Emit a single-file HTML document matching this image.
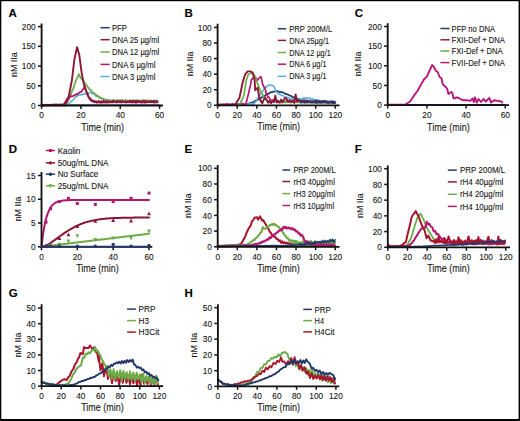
<!DOCTYPE html><html><head><meta charset="utf-8"><style>html,body{margin:0;padding:0;background:#fff;overflow:hidden;width:520px;height:421px;}svg{display:block;} text{stroke:#141414;stroke-width:0.1px;}</style></head><body><svg width="520" height="421" viewBox="0 0 520 421" font-family='"Liberation Sans", sans-serif'>
<rect x="0" y="0" width="520" height="421" fill="#fff"/>
<text x="8.40" y="16.50" font-size="11.5" font-weight="bold" fill="#000">A</text>
<line x1="41.60" y1="105.50" x2="41.60" y2="108.90" stroke="#111" stroke-width="1.5"/>
<line x1="80.93" y1="105.50" x2="80.93" y2="108.90" stroke="#111" stroke-width="1.5"/>
<line x1="120.27" y1="105.50" x2="120.27" y2="108.90" stroke="#111" stroke-width="1.5"/>
<line x1="159.60" y1="105.50" x2="159.60" y2="108.90" stroke="#111" stroke-width="1.5"/>
<line x1="38.00" y1="105.50" x2="41.60" y2="105.50" stroke="#111" stroke-width="1.5"/>
<line x1="38.00" y1="85.78" x2="41.60" y2="85.78" stroke="#111" stroke-width="1.5"/>
<line x1="38.00" y1="66.05" x2="41.60" y2="66.05" stroke="#111" stroke-width="1.5"/>
<line x1="38.00" y1="46.32" x2="41.60" y2="46.32" stroke="#111" stroke-width="1.5"/>
<line x1="38.00" y1="26.60" x2="41.60" y2="26.60" stroke="#111" stroke-width="1.5"/>
<text x="35.70" y="108.60" font-size="9.0" text-anchor="end" font-weight="normal" fill="#141414" textLength="4.62" lengthAdjust="spacingAndGlyphs" >0</text>
<text x="35.70" y="88.88" font-size="9.0" text-anchor="end" font-weight="normal" fill="#141414" textLength="9.23" lengthAdjust="spacingAndGlyphs" >50</text>
<text x="35.70" y="69.15" font-size="9.0" text-anchor="end" font-weight="normal" fill="#141414" textLength="13.85" lengthAdjust="spacingAndGlyphs" >100</text>
<text x="35.70" y="49.42" font-size="9.0" text-anchor="end" font-weight="normal" fill="#141414" textLength="13.85" lengthAdjust="spacingAndGlyphs" >150</text>
<text x="35.70" y="29.70" font-size="9.0" text-anchor="end" font-weight="normal" fill="#141414" textLength="13.85" lengthAdjust="spacingAndGlyphs" >200</text>
<text x="41.60" y="118.40" font-size="9.0" text-anchor="middle" font-weight="normal" fill="#141414" textLength="4.62" lengthAdjust="spacingAndGlyphs" >0</text>
<text x="80.93" y="118.40" font-size="9.0" text-anchor="middle" font-weight="normal" fill="#141414" textLength="9.23" lengthAdjust="spacingAndGlyphs" >20</text>
<text x="120.27" y="118.40" font-size="9.0" text-anchor="middle" font-weight="normal" fill="#141414" textLength="9.23" lengthAdjust="spacingAndGlyphs" >40</text>
<text x="159.60" y="118.40" font-size="9.0" text-anchor="middle" font-weight="normal" fill="#141414" textLength="9.23" lengthAdjust="spacingAndGlyphs" >60</text>
<text x="0" y="0" font-size="9.0" text-anchor="middle" fill="#141414" textLength="24.73" lengthAdjust="spacingAndGlyphs" transform="translate(17.10 64.60) rotate(-90)">nM IIa</text>
<text x="102.70" y="130.80" font-size="10.2" text-anchor="middle" font-weight="normal" fill="#141414" textLength="42.66" lengthAdjust="spacingAndGlyphs" >Time (min)</text>
<line x1="100.50" y1="27.70" x2="109.70" y2="27.70" stroke="#22396c" stroke-width="1.5"/>
<text x="112.00" y="30.80" font-size="8.74" fill="#141414" textLength="14.94" lengthAdjust="spacingAndGlyphs">PFP</text>
<line x1="100.50" y1="39.70" x2="109.70" y2="39.70" stroke="#8c1636" stroke-width="1.5"/>
<text x="112.00" y="42.80" font-size="8.74" fill="#141414" textLength="47.20" lengthAdjust="spacingAndGlyphs">DNA 25 µg/ml</text>
<line x1="100.50" y1="52.00" x2="109.70" y2="52.00" stroke="#6dab48" stroke-width="1.5"/>
<text x="112.00" y="55.10" font-size="8.74" fill="#141414" textLength="47.20" lengthAdjust="spacingAndGlyphs">DNA 12 µg/ml</text>
<line x1="100.50" y1="64.40" x2="109.70" y2="64.40" stroke="#b5176f" stroke-width="1.5"/>
<text x="112.00" y="67.50" font-size="8.74" fill="#141414" textLength="43.43" lengthAdjust="spacingAndGlyphs">DNA 6 µg/ml</text>
<line x1="100.50" y1="76.50" x2="109.70" y2="76.50" stroke="#5eaed6" stroke-width="1.5"/>
<text x="112.00" y="79.60" font-size="8.74" fill="#141414" textLength="43.43" lengthAdjust="spacingAndGlyphs">DNA 3 µg/ml</text>
<text x="184.40" y="16.50" font-size="11.5" font-weight="bold" fill="#000">B</text>
<line x1="217.60" y1="105.30" x2="217.60" y2="108.70" stroke="#111" stroke-width="1.5"/>
<line x1="237.22" y1="105.30" x2="237.22" y2="108.70" stroke="#111" stroke-width="1.5"/>
<line x1="256.83" y1="105.30" x2="256.83" y2="108.70" stroke="#111" stroke-width="1.5"/>
<line x1="276.45" y1="105.30" x2="276.45" y2="108.70" stroke="#111" stroke-width="1.5"/>
<line x1="296.07" y1="105.30" x2="296.07" y2="108.70" stroke="#111" stroke-width="1.5"/>
<line x1="315.68" y1="105.30" x2="315.68" y2="108.70" stroke="#111" stroke-width="1.5"/>
<line x1="335.30" y1="105.30" x2="335.30" y2="108.70" stroke="#111" stroke-width="1.5"/>
<line x1="214.00" y1="105.30" x2="217.60" y2="105.30" stroke="#111" stroke-width="1.5"/>
<line x1="214.00" y1="89.72" x2="217.60" y2="89.72" stroke="#111" stroke-width="1.5"/>
<line x1="214.00" y1="74.14" x2="217.60" y2="74.14" stroke="#111" stroke-width="1.5"/>
<line x1="214.00" y1="58.56" x2="217.60" y2="58.56" stroke="#111" stroke-width="1.5"/>
<line x1="214.00" y1="42.98" x2="217.60" y2="42.98" stroke="#111" stroke-width="1.5"/>
<line x1="214.00" y1="27.40" x2="217.60" y2="27.40" stroke="#111" stroke-width="1.5"/>
<text x="211.70" y="108.40" font-size="9.0" text-anchor="end" font-weight="normal" fill="#141414" textLength="4.62" lengthAdjust="spacingAndGlyphs" >0</text>
<text x="211.70" y="92.82" font-size="9.0" text-anchor="end" font-weight="normal" fill="#141414" textLength="9.23" lengthAdjust="spacingAndGlyphs" >20</text>
<text x="211.70" y="77.24" font-size="9.0" text-anchor="end" font-weight="normal" fill="#141414" textLength="9.23" lengthAdjust="spacingAndGlyphs" >40</text>
<text x="211.70" y="61.66" font-size="9.0" text-anchor="end" font-weight="normal" fill="#141414" textLength="9.23" lengthAdjust="spacingAndGlyphs" >60</text>
<text x="211.70" y="46.08" font-size="9.0" text-anchor="end" font-weight="normal" fill="#141414" textLength="9.23" lengthAdjust="spacingAndGlyphs" >80</text>
<text x="211.70" y="30.50" font-size="9.0" text-anchor="end" font-weight="normal" fill="#141414" textLength="13.85" lengthAdjust="spacingAndGlyphs" >100</text>
<text x="217.60" y="118.20" font-size="9.0" text-anchor="middle" font-weight="normal" fill="#141414" textLength="4.62" lengthAdjust="spacingAndGlyphs" >0</text>
<text x="237.22" y="118.20" font-size="9.0" text-anchor="middle" font-weight="normal" fill="#141414" textLength="9.23" lengthAdjust="spacingAndGlyphs" >20</text>
<text x="256.83" y="118.20" font-size="9.0" text-anchor="middle" font-weight="normal" fill="#141414" textLength="9.23" lengthAdjust="spacingAndGlyphs" >40</text>
<text x="276.45" y="118.20" font-size="9.0" text-anchor="middle" font-weight="normal" fill="#141414" textLength="9.23" lengthAdjust="spacingAndGlyphs" >60</text>
<text x="296.07" y="118.20" font-size="9.0" text-anchor="middle" font-weight="normal" fill="#141414" textLength="9.23" lengthAdjust="spacingAndGlyphs" >80</text>
<text x="315.68" y="118.20" font-size="9.0" text-anchor="middle" font-weight="normal" fill="#141414" textLength="13.85" lengthAdjust="spacingAndGlyphs" >100</text>
<text x="335.30" y="118.20" font-size="9.0" text-anchor="middle" font-weight="normal" fill="#141414" textLength="13.85" lengthAdjust="spacingAndGlyphs" >120</text>
<text x="0" y="0" font-size="9.0" text-anchor="middle" fill="#141414" textLength="24.73" lengthAdjust="spacingAndGlyphs" transform="translate(193.00 63.90) rotate(-90)">nM IIa</text>
<text x="278.70" y="130.00" font-size="10.2" text-anchor="middle" font-weight="normal" fill="#141414" textLength="42.66" lengthAdjust="spacingAndGlyphs" >Time (min)</text>
<line x1="277.80" y1="28.80" x2="286.00" y2="28.80" stroke="#22396c" stroke-width="1.5"/>
<text x="289.30" y="31.90" font-size="8.74" fill="#141414" textLength="43.01" lengthAdjust="spacingAndGlyphs">PRP 200M/L</text>
<line x1="277.80" y1="40.40" x2="286.00" y2="40.40" stroke="#8c1636" stroke-width="1.5"/>
<text x="289.30" y="43.50" font-size="8.74" fill="#141414" textLength="39.72" lengthAdjust="spacingAndGlyphs">DNA 25µg/1</text>
<line x1="277.80" y1="52.50" x2="286.00" y2="52.50" stroke="#6dab48" stroke-width="1.5"/>
<text x="289.30" y="55.60" font-size="8.74" fill="#141414" textLength="41.40" lengthAdjust="spacingAndGlyphs">DNA 12 µg/1</text>
<line x1="277.80" y1="64.20" x2="286.00" y2="64.20" stroke="#b5176f" stroke-width="1.5"/>
<text x="289.30" y="67.30" font-size="8.74" fill="#141414" textLength="37.13" lengthAdjust="spacingAndGlyphs">DNA 6 µg/1</text>
<line x1="277.80" y1="76.30" x2="286.00" y2="76.30" stroke="#5eaed6" stroke-width="1.5"/>
<text x="289.30" y="79.40" font-size="8.74" fill="#141414" textLength="37.13" lengthAdjust="spacingAndGlyphs">DNA 3 µg/1</text>
<text x="354.80" y="16.50" font-size="11.5" font-weight="bold" fill="#000">C</text>
<line x1="387.70" y1="105.10" x2="387.70" y2="108.50" stroke="#111" stroke-width="1.5"/>
<line x1="426.90" y1="105.10" x2="426.90" y2="108.50" stroke="#111" stroke-width="1.5"/>
<line x1="466.10" y1="105.10" x2="466.10" y2="108.50" stroke="#111" stroke-width="1.5"/>
<line x1="505.30" y1="105.10" x2="505.30" y2="108.50" stroke="#111" stroke-width="1.5"/>
<line x1="384.10" y1="105.10" x2="387.70" y2="105.10" stroke="#111" stroke-width="1.5"/>
<line x1="384.10" y1="85.45" x2="387.70" y2="85.45" stroke="#111" stroke-width="1.5"/>
<line x1="384.10" y1="65.80" x2="387.70" y2="65.80" stroke="#111" stroke-width="1.5"/>
<line x1="384.10" y1="46.15" x2="387.70" y2="46.15" stroke="#111" stroke-width="1.5"/>
<line x1="384.10" y1="26.50" x2="387.70" y2="26.50" stroke="#111" stroke-width="1.5"/>
<text x="381.80" y="108.20" font-size="9.0" text-anchor="end" font-weight="normal" fill="#141414" textLength="4.62" lengthAdjust="spacingAndGlyphs" >0</text>
<text x="381.80" y="88.55" font-size="9.0" text-anchor="end" font-weight="normal" fill="#141414" textLength="9.23" lengthAdjust="spacingAndGlyphs" >50</text>
<text x="381.80" y="68.90" font-size="9.0" text-anchor="end" font-weight="normal" fill="#141414" textLength="13.85" lengthAdjust="spacingAndGlyphs" >100</text>
<text x="381.80" y="49.25" font-size="9.0" text-anchor="end" font-weight="normal" fill="#141414" textLength="13.85" lengthAdjust="spacingAndGlyphs" >150</text>
<text x="381.80" y="29.60" font-size="9.0" text-anchor="end" font-weight="normal" fill="#141414" textLength="13.85" lengthAdjust="spacingAndGlyphs" >200</text>
<text x="387.70" y="118.00" font-size="9.0" text-anchor="middle" font-weight="normal" fill="#141414" textLength="4.62" lengthAdjust="spacingAndGlyphs" >0</text>
<text x="426.90" y="118.00" font-size="9.0" text-anchor="middle" font-weight="normal" fill="#141414" textLength="9.23" lengthAdjust="spacingAndGlyphs" >20</text>
<text x="466.10" y="118.00" font-size="9.0" text-anchor="middle" font-weight="normal" fill="#141414" textLength="9.23" lengthAdjust="spacingAndGlyphs" >40</text>
<text x="505.30" y="118.00" font-size="9.0" text-anchor="middle" font-weight="normal" fill="#141414" textLength="9.23" lengthAdjust="spacingAndGlyphs" >60</text>
<text x="0" y="0" font-size="9.0" text-anchor="middle" fill="#141414" textLength="24.73" lengthAdjust="spacingAndGlyphs" transform="translate(360.90 63.90) rotate(-90)">nM IIa</text>
<text x="448.40" y="130.50" font-size="10.2" text-anchor="middle" font-weight="normal" fill="#141414" textLength="42.66" lengthAdjust="spacingAndGlyphs" >Time (min)</text>
<line x1="440.40" y1="28.50" x2="449.60" y2="28.50" stroke="#22396c" stroke-width="1.5"/>
<text x="451.60" y="31.60" font-size="8.74" fill="#141414" textLength="43.37" lengthAdjust="spacingAndGlyphs">PFP no DNA</text>
<line x1="440.40" y1="39.80" x2="449.60" y2="39.80" stroke="#a8143c" stroke-width="1.5"/>
<text x="451.60" y="42.90" font-size="8.74" fill="#141414" textLength="53.35" lengthAdjust="spacingAndGlyphs">FXII-Def + DNA</text>
<line x1="440.40" y1="51.00" x2="449.60" y2="51.00" stroke="#6dab48" stroke-width="1.5"/>
<text x="451.60" y="54.10" font-size="8.74" fill="#141414" textLength="51.07" lengthAdjust="spacingAndGlyphs">FXI-Def + DNA</text>
<line x1="440.40" y1="62.60" x2="449.60" y2="62.60" stroke="#b5176f" stroke-width="1.5"/>
<text x="451.60" y="65.70" font-size="8.74" fill="#141414" textLength="53.35" lengthAdjust="spacingAndGlyphs">FVII-Def + DNA</text>
<text x="8.70" y="152.90" font-size="11.5" font-weight="bold" fill="#000">D</text>
<line x1="41.50" y1="246.80" x2="41.50" y2="250.20" stroke="#111" stroke-width="1.5"/>
<line x1="77.33" y1="246.80" x2="77.33" y2="250.20" stroke="#111" stroke-width="1.5"/>
<line x1="113.17" y1="246.80" x2="113.17" y2="250.20" stroke="#111" stroke-width="1.5"/>
<line x1="149.00" y1="246.80" x2="149.00" y2="250.20" stroke="#111" stroke-width="1.5"/>
<line x1="37.90" y1="246.80" x2="41.50" y2="246.80" stroke="#111" stroke-width="1.5"/>
<line x1="37.90" y1="223.03" x2="41.50" y2="223.03" stroke="#111" stroke-width="1.5"/>
<line x1="37.90" y1="199.27" x2="41.50" y2="199.27" stroke="#111" stroke-width="1.5"/>
<line x1="37.90" y1="175.50" x2="41.50" y2="175.50" stroke="#111" stroke-width="1.5"/>
<text x="35.60" y="249.90" font-size="9.0" text-anchor="end" font-weight="normal" fill="#141414" textLength="4.62" lengthAdjust="spacingAndGlyphs" >0</text>
<text x="35.60" y="226.13" font-size="9.0" text-anchor="end" font-weight="normal" fill="#141414" textLength="4.62" lengthAdjust="spacingAndGlyphs" >5</text>
<text x="35.60" y="202.37" font-size="9.0" text-anchor="end" font-weight="normal" fill="#141414" textLength="9.23" lengthAdjust="spacingAndGlyphs" >10</text>
<text x="35.60" y="178.60" font-size="9.0" text-anchor="end" font-weight="normal" fill="#141414" textLength="9.23" lengthAdjust="spacingAndGlyphs" >15</text>
<text x="41.50" y="259.70" font-size="9.0" text-anchor="middle" font-weight="normal" fill="#141414" textLength="4.62" lengthAdjust="spacingAndGlyphs" >0</text>
<text x="77.33" y="259.70" font-size="9.0" text-anchor="middle" font-weight="normal" fill="#141414" textLength="9.23" lengthAdjust="spacingAndGlyphs" >20</text>
<text x="113.17" y="259.70" font-size="9.0" text-anchor="middle" font-weight="normal" fill="#141414" textLength="9.23" lengthAdjust="spacingAndGlyphs" >40</text>
<text x="149.00" y="259.70" font-size="9.0" text-anchor="middle" font-weight="normal" fill="#141414" textLength="9.23" lengthAdjust="spacingAndGlyphs" >60</text>
<text x="0" y="0" font-size="9.0" text-anchor="middle" fill="#141414" textLength="24.73" lengthAdjust="spacingAndGlyphs" transform="translate(21.40 209.00) rotate(-90)">nM IIa</text>
<text x="97.50" y="272.00" font-size="10.2" text-anchor="middle" font-weight="normal" fill="#141414" textLength="42.66" lengthAdjust="spacingAndGlyphs" >Time (min)</text>
<line x1="45.80" y1="150.50" x2="55.00" y2="150.50" stroke="#b5176f" stroke-width="1.5"/>
<text x="57.70" y="153.60" font-size="9.18" fill="#141414" textLength="22.60" lengthAdjust="spacingAndGlyphs">Kaolin</text>
<line x1="45.80" y1="162.80" x2="55.00" y2="162.80" stroke="#8c1636" stroke-width="1.5"/>
<text x="57.70" y="165.90" font-size="9.18" fill="#141414" textLength="50.75" lengthAdjust="spacingAndGlyphs">50ug/mL DNA</text>
<line x1="45.80" y1="174.20" x2="55.00" y2="174.20" stroke="#22396c" stroke-width="1.5"/>
<text x="57.70" y="177.30" font-size="9.18" fill="#141414" textLength="40.52" lengthAdjust="spacingAndGlyphs">No Surface</text>
<line x1="45.80" y1="185.80" x2="55.00" y2="185.80" stroke="#6dab48" stroke-width="1.5"/>
<text x="57.70" y="188.90" font-size="9.18" fill="#141414" textLength="50.75" lengthAdjust="spacingAndGlyphs">25ug/mL DNA</text>
<text x="184.40" y="152.90" font-size="11.5" font-weight="bold" fill="#000">E</text>
<line x1="217.70" y1="246.80" x2="217.70" y2="250.20" stroke="#111" stroke-width="1.5"/>
<line x1="237.28" y1="246.80" x2="237.28" y2="250.20" stroke="#111" stroke-width="1.5"/>
<line x1="256.87" y1="246.80" x2="256.87" y2="250.20" stroke="#111" stroke-width="1.5"/>
<line x1="276.45" y1="246.80" x2="276.45" y2="250.20" stroke="#111" stroke-width="1.5"/>
<line x1="296.03" y1="246.80" x2="296.03" y2="250.20" stroke="#111" stroke-width="1.5"/>
<line x1="315.62" y1="246.80" x2="315.62" y2="250.20" stroke="#111" stroke-width="1.5"/>
<line x1="335.20" y1="246.80" x2="335.20" y2="250.20" stroke="#111" stroke-width="1.5"/>
<line x1="214.10" y1="246.80" x2="217.70" y2="246.80" stroke="#111" stroke-width="1.5"/>
<line x1="214.10" y1="231.10" x2="217.70" y2="231.10" stroke="#111" stroke-width="1.5"/>
<line x1="214.10" y1="215.40" x2="217.70" y2="215.40" stroke="#111" stroke-width="1.5"/>
<line x1="214.10" y1="199.70" x2="217.70" y2="199.70" stroke="#111" stroke-width="1.5"/>
<line x1="214.10" y1="184.00" x2="217.70" y2="184.00" stroke="#111" stroke-width="1.5"/>
<line x1="214.10" y1="168.30" x2="217.70" y2="168.30" stroke="#111" stroke-width="1.5"/>
<text x="211.80" y="249.90" font-size="9.0" text-anchor="end" font-weight="normal" fill="#141414" textLength="4.62" lengthAdjust="spacingAndGlyphs" >0</text>
<text x="211.80" y="234.20" font-size="9.0" text-anchor="end" font-weight="normal" fill="#141414" textLength="9.23" lengthAdjust="spacingAndGlyphs" >20</text>
<text x="211.80" y="218.50" font-size="9.0" text-anchor="end" font-weight="normal" fill="#141414" textLength="9.23" lengthAdjust="spacingAndGlyphs" >40</text>
<text x="211.80" y="202.80" font-size="9.0" text-anchor="end" font-weight="normal" fill="#141414" textLength="9.23" lengthAdjust="spacingAndGlyphs" >60</text>
<text x="211.80" y="187.10" font-size="9.0" text-anchor="end" font-weight="normal" fill="#141414" textLength="9.23" lengthAdjust="spacingAndGlyphs" >80</text>
<text x="211.80" y="171.40" font-size="9.0" text-anchor="end" font-weight="normal" fill="#141414" textLength="13.85" lengthAdjust="spacingAndGlyphs" >100</text>
<text x="217.70" y="259.70" font-size="9.0" text-anchor="middle" font-weight="normal" fill="#141414" textLength="4.62" lengthAdjust="spacingAndGlyphs" >0</text>
<text x="237.28" y="259.70" font-size="9.0" text-anchor="middle" font-weight="normal" fill="#141414" textLength="9.23" lengthAdjust="spacingAndGlyphs" >20</text>
<text x="256.87" y="259.70" font-size="9.0" text-anchor="middle" font-weight="normal" fill="#141414" textLength="9.23" lengthAdjust="spacingAndGlyphs" >40</text>
<text x="276.45" y="259.70" font-size="9.0" text-anchor="middle" font-weight="normal" fill="#141414" textLength="9.23" lengthAdjust="spacingAndGlyphs" >60</text>
<text x="296.03" y="259.70" font-size="9.0" text-anchor="middle" font-weight="normal" fill="#141414" textLength="9.23" lengthAdjust="spacingAndGlyphs" >80</text>
<text x="315.62" y="259.70" font-size="9.0" text-anchor="middle" font-weight="normal" fill="#141414" textLength="13.85" lengthAdjust="spacingAndGlyphs" >100</text>
<text x="335.20" y="259.70" font-size="9.0" text-anchor="middle" font-weight="normal" fill="#141414" textLength="13.85" lengthAdjust="spacingAndGlyphs" >120</text>
<text x="0" y="0" font-size="9.0" text-anchor="middle" fill="#141414" textLength="24.73" lengthAdjust="spacingAndGlyphs" transform="translate(191.30 205.60) rotate(-90)">nM IIa</text>
<text x="278.50" y="272.00" font-size="10.2" text-anchor="middle" font-weight="normal" fill="#141414" textLength="42.66" lengthAdjust="spacingAndGlyphs" >Time (min)</text>
<line x1="282.40" y1="170.00" x2="290.00" y2="170.00" stroke="#22396c" stroke-width="1.5"/>
<text x="293.40" y="173.10" font-size="8.62" fill="#141414" textLength="42.21" lengthAdjust="spacingAndGlyphs">PRP 200M/L</text>
<line x1="282.40" y1="181.50" x2="290.00" y2="181.50" stroke="#8c1636" stroke-width="1.5"/>
<text x="293.40" y="184.60" font-size="8.62" fill="#141414" textLength="41.47" lengthAdjust="spacingAndGlyphs">rH3 40µg/ml</text>
<line x1="282.40" y1="193.60" x2="290.00" y2="193.60" stroke="#6dab48" stroke-width="1.5"/>
<text x="293.40" y="196.70" font-size="8.62" fill="#141414" textLength="41.47" lengthAdjust="spacingAndGlyphs">rH3 20µg/ml</text>
<line x1="282.40" y1="205.50" x2="290.00" y2="205.50" stroke="#b5176f" stroke-width="1.5"/>
<text x="293.40" y="208.60" font-size="8.62" fill="#141414" textLength="40.77" lengthAdjust="spacingAndGlyphs">rH3 10µg/ml</text>
<text x="354.80" y="152.90" font-size="11.5" font-weight="bold" fill="#000">F</text>
<line x1="387.80" y1="247.30" x2="387.80" y2="250.70" stroke="#111" stroke-width="1.5"/>
<line x1="407.45" y1="247.30" x2="407.45" y2="250.70" stroke="#111" stroke-width="1.5"/>
<line x1="427.10" y1="247.30" x2="427.10" y2="250.70" stroke="#111" stroke-width="1.5"/>
<line x1="446.75" y1="247.30" x2="446.75" y2="250.70" stroke="#111" stroke-width="1.5"/>
<line x1="466.40" y1="247.30" x2="466.40" y2="250.70" stroke="#111" stroke-width="1.5"/>
<line x1="486.05" y1="247.30" x2="486.05" y2="250.70" stroke="#111" stroke-width="1.5"/>
<line x1="505.70" y1="247.30" x2="505.70" y2="250.70" stroke="#111" stroke-width="1.5"/>
<line x1="384.20" y1="247.30" x2="387.80" y2="247.30" stroke="#111" stroke-width="1.5"/>
<line x1="384.20" y1="231.58" x2="387.80" y2="231.58" stroke="#111" stroke-width="1.5"/>
<line x1="384.20" y1="215.86" x2="387.80" y2="215.86" stroke="#111" stroke-width="1.5"/>
<line x1="384.20" y1="200.14" x2="387.80" y2="200.14" stroke="#111" stroke-width="1.5"/>
<line x1="384.20" y1="184.42" x2="387.80" y2="184.42" stroke="#111" stroke-width="1.5"/>
<line x1="384.20" y1="168.70" x2="387.80" y2="168.70" stroke="#111" stroke-width="1.5"/>
<text x="381.90" y="250.40" font-size="9.0" text-anchor="end" font-weight="normal" fill="#141414" textLength="4.62" lengthAdjust="spacingAndGlyphs" >0</text>
<text x="381.90" y="234.68" font-size="9.0" text-anchor="end" font-weight="normal" fill="#141414" textLength="9.23" lengthAdjust="spacingAndGlyphs" >20</text>
<text x="381.90" y="218.96" font-size="9.0" text-anchor="end" font-weight="normal" fill="#141414" textLength="9.23" lengthAdjust="spacingAndGlyphs" >40</text>
<text x="381.90" y="203.24" font-size="9.0" text-anchor="end" font-weight="normal" fill="#141414" textLength="9.23" lengthAdjust="spacingAndGlyphs" >60</text>
<text x="381.90" y="187.52" font-size="9.0" text-anchor="end" font-weight="normal" fill="#141414" textLength="9.23" lengthAdjust="spacingAndGlyphs" >80</text>
<text x="381.90" y="171.80" font-size="9.0" text-anchor="end" font-weight="normal" fill="#141414" textLength="13.85" lengthAdjust="spacingAndGlyphs" >100</text>
<text x="387.80" y="260.20" font-size="9.0" text-anchor="middle" font-weight="normal" fill="#141414" textLength="4.62" lengthAdjust="spacingAndGlyphs" >0</text>
<text x="407.45" y="260.20" font-size="9.0" text-anchor="middle" font-weight="normal" fill="#141414" textLength="9.23" lengthAdjust="spacingAndGlyphs" >20</text>
<text x="427.10" y="260.20" font-size="9.0" text-anchor="middle" font-weight="normal" fill="#141414" textLength="9.23" lengthAdjust="spacingAndGlyphs" >40</text>
<text x="446.75" y="260.20" font-size="9.0" text-anchor="middle" font-weight="normal" fill="#141414" textLength="9.23" lengthAdjust="spacingAndGlyphs" >60</text>
<text x="466.40" y="260.20" font-size="9.0" text-anchor="middle" font-weight="normal" fill="#141414" textLength="9.23" lengthAdjust="spacingAndGlyphs" >80</text>
<text x="486.05" y="260.20" font-size="9.0" text-anchor="middle" font-weight="normal" fill="#141414" textLength="13.85" lengthAdjust="spacingAndGlyphs" >100</text>
<text x="505.70" y="260.20" font-size="9.0" text-anchor="middle" font-weight="normal" fill="#141414" textLength="13.85" lengthAdjust="spacingAndGlyphs" >120</text>
<text x="0" y="0" font-size="9.0" text-anchor="middle" fill="#141414" textLength="24.73" lengthAdjust="spacingAndGlyphs" transform="translate(363.10 205.60) rotate(-90)">nM IIa</text>
<text x="448.50" y="272.00" font-size="10.2" text-anchor="middle" font-weight="normal" fill="#141414" textLength="42.66" lengthAdjust="spacingAndGlyphs" >Time (min)</text>
<line x1="447.80" y1="170.10" x2="456.80" y2="170.10" stroke="#22396c" stroke-width="1.5"/>
<text x="459.90" y="173.20" font-size="9.07" fill="#141414" textLength="45.41" lengthAdjust="spacingAndGlyphs">PRP 200M/L</text>
<line x1="447.80" y1="181.90" x2="456.80" y2="181.90" stroke="#8c1636" stroke-width="1.5"/>
<text x="459.90" y="185.00" font-size="9.07" fill="#141414" textLength="43.37" lengthAdjust="spacingAndGlyphs">rH4 40µg/ml</text>
<line x1="447.80" y1="194.30" x2="456.80" y2="194.30" stroke="#6dab48" stroke-width="1.5"/>
<text x="459.90" y="197.40" font-size="9.07" fill="#141414" textLength="43.37" lengthAdjust="spacingAndGlyphs">rH4 20µg/ml</text>
<line x1="447.80" y1="206.40" x2="456.80" y2="206.40" stroke="#b5176f" stroke-width="1.5"/>
<text x="459.90" y="209.50" font-size="9.07" fill="#141414" textLength="43.37" lengthAdjust="spacingAndGlyphs">rH4 10µg/ml</text>
<text x="8.70" y="296.90" font-size="11.5" font-weight="bold" fill="#000">G</text>
<line x1="41.60" y1="386.10" x2="41.60" y2="389.50" stroke="#111" stroke-width="1.5"/>
<line x1="61.23" y1="386.10" x2="61.23" y2="389.50" stroke="#111" stroke-width="1.5"/>
<line x1="80.87" y1="386.10" x2="80.87" y2="389.50" stroke="#111" stroke-width="1.5"/>
<line x1="100.50" y1="386.10" x2="100.50" y2="389.50" stroke="#111" stroke-width="1.5"/>
<line x1="120.13" y1="386.10" x2="120.13" y2="389.50" stroke="#111" stroke-width="1.5"/>
<line x1="139.77" y1="386.10" x2="139.77" y2="389.50" stroke="#111" stroke-width="1.5"/>
<line x1="159.40" y1="386.10" x2="159.40" y2="389.50" stroke="#111" stroke-width="1.5"/>
<line x1="38.00" y1="386.10" x2="41.60" y2="386.10" stroke="#111" stroke-width="1.5"/>
<line x1="38.00" y1="370.50" x2="41.60" y2="370.50" stroke="#111" stroke-width="1.5"/>
<line x1="38.00" y1="354.90" x2="41.60" y2="354.90" stroke="#111" stroke-width="1.5"/>
<line x1="38.00" y1="339.30" x2="41.60" y2="339.30" stroke="#111" stroke-width="1.5"/>
<line x1="38.00" y1="323.70" x2="41.60" y2="323.70" stroke="#111" stroke-width="1.5"/>
<line x1="38.00" y1="308.10" x2="41.60" y2="308.10" stroke="#111" stroke-width="1.5"/>
<text x="35.70" y="389.20" font-size="9.0" text-anchor="end" font-weight="normal" fill="#141414" textLength="4.62" lengthAdjust="spacingAndGlyphs" >0</text>
<text x="35.70" y="373.60" font-size="9.0" text-anchor="end" font-weight="normal" fill="#141414" textLength="9.23" lengthAdjust="spacingAndGlyphs" >10</text>
<text x="35.70" y="358.00" font-size="9.0" text-anchor="end" font-weight="normal" fill="#141414" textLength="9.23" lengthAdjust="spacingAndGlyphs" >20</text>
<text x="35.70" y="342.40" font-size="9.0" text-anchor="end" font-weight="normal" fill="#141414" textLength="9.23" lengthAdjust="spacingAndGlyphs" >30</text>
<text x="35.70" y="326.80" font-size="9.0" text-anchor="end" font-weight="normal" fill="#141414" textLength="9.23" lengthAdjust="spacingAndGlyphs" >40</text>
<text x="35.70" y="311.20" font-size="9.0" text-anchor="end" font-weight="normal" fill="#141414" textLength="9.23" lengthAdjust="spacingAndGlyphs" >50</text>
<text x="41.60" y="399.00" font-size="9.0" text-anchor="middle" font-weight="normal" fill="#141414" textLength="4.62" lengthAdjust="spacingAndGlyphs" >0</text>
<text x="61.23" y="399.00" font-size="9.0" text-anchor="middle" font-weight="normal" fill="#141414" textLength="9.23" lengthAdjust="spacingAndGlyphs" >20</text>
<text x="80.87" y="399.00" font-size="9.0" text-anchor="middle" font-weight="normal" fill="#141414" textLength="9.23" lengthAdjust="spacingAndGlyphs" >40</text>
<text x="100.50" y="399.00" font-size="9.0" text-anchor="middle" font-weight="normal" fill="#141414" textLength="9.23" lengthAdjust="spacingAndGlyphs" >60</text>
<text x="120.13" y="399.00" font-size="9.0" text-anchor="middle" font-weight="normal" fill="#141414" textLength="9.23" lengthAdjust="spacingAndGlyphs" >80</text>
<text x="139.77" y="399.00" font-size="9.0" text-anchor="middle" font-weight="normal" fill="#141414" textLength="13.85" lengthAdjust="spacingAndGlyphs" >100</text>
<text x="159.40" y="399.00" font-size="9.0" text-anchor="middle" font-weight="normal" fill="#141414" textLength="13.85" lengthAdjust="spacingAndGlyphs" >120</text>
<text x="0" y="0" font-size="9.0" text-anchor="middle" fill="#141414" textLength="24.73" lengthAdjust="spacingAndGlyphs" transform="translate(20.60 345.00) rotate(-90)">nM IIa</text>
<text x="102.50" y="410.70" font-size="10.2" text-anchor="middle" font-weight="normal" fill="#141414" textLength="42.66" lengthAdjust="spacingAndGlyphs" >Time (min)</text>
<line x1="127.10" y1="309.10" x2="135.80" y2="309.10" stroke="#22396c" stroke-width="1.5"/>
<text x="138.60" y="312.20" font-size="9.18" fill="#141414" textLength="16.77" lengthAdjust="spacingAndGlyphs">PRP</text>
<line x1="127.10" y1="320.60" x2="135.80" y2="320.60" stroke="#6dab48" stroke-width="1.5"/>
<text x="138.60" y="323.70" font-size="9.18" fill="#141414" textLength="10.39" lengthAdjust="spacingAndGlyphs">H3</text>
<line x1="127.10" y1="332.10" x2="135.80" y2="332.10" stroke="#a8142e" stroke-width="1.5"/>
<text x="138.60" y="335.20" font-size="9.18" fill="#141414" textLength="20.80" lengthAdjust="spacingAndGlyphs">H3Cit</text>
<text x="184.40" y="297.20" font-size="11.5" font-weight="bold" fill="#000">H</text>
<line x1="217.90" y1="386.40" x2="217.90" y2="389.80" stroke="#111" stroke-width="1.5"/>
<line x1="237.57" y1="386.40" x2="237.57" y2="389.80" stroke="#111" stroke-width="1.5"/>
<line x1="257.23" y1="386.40" x2="257.23" y2="389.80" stroke="#111" stroke-width="1.5"/>
<line x1="276.90" y1="386.40" x2="276.90" y2="389.80" stroke="#111" stroke-width="1.5"/>
<line x1="296.57" y1="386.40" x2="296.57" y2="389.80" stroke="#111" stroke-width="1.5"/>
<line x1="316.23" y1="386.40" x2="316.23" y2="389.80" stroke="#111" stroke-width="1.5"/>
<line x1="335.90" y1="386.40" x2="335.90" y2="389.80" stroke="#111" stroke-width="1.5"/>
<line x1="214.30" y1="386.40" x2="217.90" y2="386.40" stroke="#111" stroke-width="1.5"/>
<line x1="214.30" y1="370.66" x2="217.90" y2="370.66" stroke="#111" stroke-width="1.5"/>
<line x1="214.30" y1="354.92" x2="217.90" y2="354.92" stroke="#111" stroke-width="1.5"/>
<line x1="214.30" y1="339.18" x2="217.90" y2="339.18" stroke="#111" stroke-width="1.5"/>
<line x1="214.30" y1="323.44" x2="217.90" y2="323.44" stroke="#111" stroke-width="1.5"/>
<line x1="214.30" y1="307.70" x2="217.90" y2="307.70" stroke="#111" stroke-width="1.5"/>
<text x="212.00" y="389.50" font-size="9.0" text-anchor="end" font-weight="normal" fill="#141414" textLength="4.62" lengthAdjust="spacingAndGlyphs" >0</text>
<text x="212.00" y="373.76" font-size="9.0" text-anchor="end" font-weight="normal" fill="#141414" textLength="9.23" lengthAdjust="spacingAndGlyphs" >10</text>
<text x="212.00" y="358.02" font-size="9.0" text-anchor="end" font-weight="normal" fill="#141414" textLength="9.23" lengthAdjust="spacingAndGlyphs" >20</text>
<text x="212.00" y="342.28" font-size="9.0" text-anchor="end" font-weight="normal" fill="#141414" textLength="9.23" lengthAdjust="spacingAndGlyphs" >30</text>
<text x="212.00" y="326.54" font-size="9.0" text-anchor="end" font-weight="normal" fill="#141414" textLength="9.23" lengthAdjust="spacingAndGlyphs" >40</text>
<text x="212.00" y="310.80" font-size="9.0" text-anchor="end" font-weight="normal" fill="#141414" textLength="9.23" lengthAdjust="spacingAndGlyphs" >50</text>
<text x="217.90" y="399.30" font-size="9.0" text-anchor="middle" font-weight="normal" fill="#141414" textLength="4.62" lengthAdjust="spacingAndGlyphs" >0</text>
<text x="237.57" y="399.30" font-size="9.0" text-anchor="middle" font-weight="normal" fill="#141414" textLength="9.23" lengthAdjust="spacingAndGlyphs" >20</text>
<text x="257.23" y="399.30" font-size="9.0" text-anchor="middle" font-weight="normal" fill="#141414" textLength="9.23" lengthAdjust="spacingAndGlyphs" >40</text>
<text x="276.90" y="399.30" font-size="9.0" text-anchor="middle" font-weight="normal" fill="#141414" textLength="9.23" lengthAdjust="spacingAndGlyphs" >60</text>
<text x="296.57" y="399.30" font-size="9.0" text-anchor="middle" font-weight="normal" fill="#141414" textLength="9.23" lengthAdjust="spacingAndGlyphs" >80</text>
<text x="316.23" y="399.30" font-size="9.0" text-anchor="middle" font-weight="normal" fill="#141414" textLength="13.85" lengthAdjust="spacingAndGlyphs" >100</text>
<text x="335.90" y="399.30" font-size="9.0" text-anchor="middle" font-weight="normal" fill="#141414" textLength="13.85" lengthAdjust="spacingAndGlyphs" >120</text>
<text x="0" y="0" font-size="9.0" text-anchor="middle" fill="#141414" textLength="24.73" lengthAdjust="spacingAndGlyphs" transform="translate(197.40 345.20) rotate(-90)">nM IIa</text>
<text x="278.70" y="410.70" font-size="10.2" text-anchor="middle" font-weight="normal" fill="#141414" textLength="42.66" lengthAdjust="spacingAndGlyphs" >Time (min)</text>
<line x1="303.30" y1="309.40" x2="311.90" y2="309.40" stroke="#22396c" stroke-width="1.5"/>
<text x="314.60" y="312.50" font-size="8.96" fill="#141414" textLength="16.27" lengthAdjust="spacingAndGlyphs">PRP</text>
<line x1="303.30" y1="320.60" x2="311.90" y2="320.60" stroke="#6dab48" stroke-width="1.5"/>
<text x="314.60" y="323.70" font-size="8.96" fill="#141414" textLength="9.39" lengthAdjust="spacingAndGlyphs">H4</text>
<line x1="303.30" y1="331.90" x2="311.90" y2="331.90" stroke="#a8142e" stroke-width="1.5"/>
<text x="314.60" y="335.00" font-size="8.96" fill="#141414" textLength="19.80" lengthAdjust="spacingAndGlyphs">H4Cit</text>
<polyline points="41.6,105.2 159.5,105.2" fill="none" stroke="#22396c" stroke-width="1.6" stroke-linejoin="round" stroke-linecap="round"/>
<polyline points="41.6,105.2 42.4,105.3 43.2,105.6 44.1,105.1 44.9,105.2 45.7,105.3 46.5,104.8 47.4,105.2 48.2,105.3 49.0,105.4 49.8,104.7 50.6,104.9 51.5,104.7 52.3,105.4 53.1,105.3 53.9,104.6 54.8,105.6 55.6,105.6 56.4,105.2 57.2,105.2 58.0,104.7 58.9,104.6 59.7,105.1 60.5,104.6 61.3,104.7 62.1,104.8 63.0,104.6 63.8,105.0 64.6,105.0 65.4,105.4 66.3,105.0 67.1,105.1 67.9,105.0 68.9,104.0 70.0,102.6 71.0,101.3 71.8,101.1 72.7,100.2 73.6,99.2 74.4,98.2 75.4,97.2 76.3,96.5 77.3,96.0 78.2,95.2 79.2,95.3 80.1,94.7 80.9,94.9 81.8,94.3 82.6,94.7 83.5,94.3 84.5,93.5 85.4,93.6 86.3,94.3 87.3,93.8 88.2,93.8 89.1,92.8 90.0,92.1 91.0,93.1 92.0,93.6 93.0,93.6 93.8,93.9 94.7,94.6 95.5,95.7 96.3,96.0 97.1,95.8 97.9,96.4 98.8,96.7 99.6,97.2 100.4,98.2 101.2,97.9 102.0,98.6 102.8,98.7 103.6,98.8 104.4,99.6 105.2,99.3 106.0,100.1 106.9,99.7 107.7,100.1 108.6,100.1 109.4,100.2 110.3,101.0 111.1,101.0 112.0,100.6 112.8,101.2 113.6,100.5 114.4,100.7 115.2,101.2 116.1,101.0 116.9,100.4 117.7,101.3 118.5,100.5 119.3,100.6 120.1,101.1 120.9,100.6 121.8,100.6 122.6,100.4 123.4,100.4 124.2,100.9 125.0,100.6 125.8,100.9 126.6,100.7 127.4,100.8 128.2,101.3 129.1,100.8 129.9,100.9 130.7,101.2 131.5,100.5 132.3,100.5 133.1,101.3 133.9,101.2 134.8,100.6 135.6,100.5 136.4,101.1 137.2,101.3 138.0,100.6 138.8,101.3 139.6,101.2 140.4,101.0 141.2,100.8 142.1,100.5 142.9,100.4 143.7,101.3 144.5,100.6 145.3,101.1 146.1,100.6 146.9,101.2 147.8,101.0 148.6,100.7 149.4,100.6 150.2,101.1 151.0,100.5 151.8,100.6 152.6,100.9 153.4,101.2 154.2,101.0 155.1,100.7 155.9,101.3 156.7,100.6 157.5,100.4" fill="none" stroke="#5eaed6" stroke-width="1.6" stroke-linejoin="round" stroke-linecap="round"/>
<polyline points="41.6,105.2 42.4,105.4 43.2,105.4 44.1,104.8 44.9,104.6 45.7,105.0 46.5,104.9 47.4,105.5 48.2,105.4 49.0,105.3 49.8,105.2 50.7,105.3 51.5,104.7 52.3,105.0 53.1,104.7 54.0,105.6 54.8,104.6 55.6,105.5 56.4,104.6 57.2,105.3 58.1,104.9 58.9,104.9 59.7,105.5 60.5,104.5 61.4,104.5 62.2,105.5 63.0,105.0 63.8,104.5 64.7,105.6 65.5,105.5 66.3,104.5 67.1,103.0 67.9,100.8 68.7,99.2 69.5,97.6 70.3,95.2 71.1,94.0 71.9,91.3 72.7,89.6 73.5,88.0 74.3,85.0 75.2,82.6 76.0,80.4 77.0,78.4 77.9,76.4 78.9,74.1 79.8,76.2 80.7,77.7 81.5,78.9 82.4,79.7 83.2,80.5 84.0,81.8 84.8,83.4 85.7,84.6 86.5,85.1 87.3,86.5 88.1,87.4 88.9,88.4 89.7,89.6 90.5,90.0 91.3,90.2 92.1,92.0 92.9,92.3 93.7,93.2 94.5,93.5 95.3,94.3 96.1,94.9 97.0,95.9 97.8,95.7 98.6,96.9 99.4,97.0 100.2,98.2 101.2,97.9 102.1,98.6 103.1,99.1 104.0,99.9 105.0,99.7 105.9,100.2 106.8,100.0 107.6,100.1 108.5,100.4 109.4,101.0 110.2,100.5 111.1,101.1 112.0,100.2 112.8,101.1 113.6,100.4 114.4,100.2 115.2,100.9 116.1,101.1 116.9,100.0 117.7,100.3 118.5,100.9 119.3,100.4 120.1,100.3 120.9,100.0 121.8,100.0 122.6,100.7 123.4,101.2 124.2,101.2 125.0,100.6 125.8,100.0 126.6,100.4 127.4,100.9 128.2,101.0 129.1,100.8 129.9,100.3 130.7,100.6 131.5,100.6 132.3,100.8 133.1,100.3 133.9,101.1 134.8,101.1 135.6,100.2 136.4,100.3 137.2,101.0 138.0,100.3 138.8,101.1 139.6,100.6 140.4,100.8 141.2,100.8 142.1,100.3 142.9,100.3 143.7,100.3 144.5,100.8 145.3,100.8 146.1,100.2 146.9,101.1 147.8,100.5 148.6,100.3 149.4,100.5 150.2,101.2 151.0,100.7 151.8,100.7 152.6,101.1 153.4,101.2 154.2,100.9 155.1,100.5 155.9,100.7 156.7,101.1 157.5,100.9" fill="none" stroke="#6dab48" stroke-width="1.8" stroke-linejoin="round" stroke-linecap="round"/>
<polyline points="41.6,104.9 42.4,105.4 43.2,105.4 44.1,105.6 44.9,104.8 45.7,104.8 46.6,104.7 47.4,104.8 48.2,105.4 49.0,104.7 49.9,105.2 50.7,104.8 51.5,104.9 52.3,105.0 53.2,105.5 54.0,105.2 54.8,104.5 55.6,104.8 56.5,104.6 57.3,105.5 58.1,105.4 58.9,105.4 59.8,105.4 60.6,105.3 61.4,105.6 62.2,105.4 63.1,104.7 63.9,105.4 64.7,105.0 65.7,103.8 66.6,102.0 67.6,100.3 68.5,98.7 69.5,97.2 70.3,96.7 71.1,96.0 71.9,96.4 72.7,96.0 73.5,95.9 74.3,95.3 75.2,94.9 76.0,94.8 76.8,93.8 77.6,94.2 78.4,93.5 79.2,92.7 80.0,92.2 80.8,92.1 81.6,91.3 82.4,90.4 83.2,89.3 84.0,87.9 84.8,86.4 85.6,89.5 86.5,91.8 87.3,94.5 88.1,96.1 88.9,97.9 89.7,99.2 90.6,100.3 91.5,101.1 92.3,100.8 93.2,101.6 94.1,102.3 95.0,101.7 95.8,101.8 96.6,102.6 97.4,102.6 98.2,102.4 99.0,101.8 99.8,102.1 100.6,102.7 101.4,102.7 102.2,102.6 103.0,101.9 103.8,102.7 104.6,102.1 105.4,102.5 106.2,101.8 107.0,102.8 107.8,102.4 108.6,102.5 109.4,101.9 110.2,102.4 111.0,102.3 111.8,102.4 112.6,102.1 113.4,102.5 114.2,102.1 115.0,102.0 115.8,101.9 116.6,102.5 117.4,101.8 118.2,101.9 119.0,101.8 119.8,102.5 120.6,102.3 121.4,102.3 122.2,101.7 123.0,102.2 123.8,102.1 124.6,101.8 125.4,101.7 126.2,102.9 127.1,101.8 127.9,102.1 128.7,102.0 129.5,102.4 130.3,101.8 131.1,102.3 131.9,102.2 132.7,102.7 133.5,101.7 134.3,102.1 135.1,102.3 135.9,102.9 136.7,102.4 137.5,102.3 138.3,102.5 139.1,102.1 139.9,101.8 140.7,102.3 141.5,102.8 142.3,102.6 143.1,102.1 143.9,102.6 144.7,102.8 145.5,102.1 146.3,102.5 147.1,102.2 147.9,102.1 148.7,102.1 149.5,102.0 150.3,102.2 151.1,101.8 151.9,102.3 152.7,101.9 153.5,102.7 154.3,102.5 155.1,101.8 155.9,102.7 156.7,102.0 157.5,102.4" fill="none" stroke="#b5176f" stroke-width="1.7" stroke-linejoin="round" stroke-linecap="round"/>
<polyline points="41.6,105.2 63.9,104.5 68.7,96.5 71.9,80.3 74.4,59.4 77.1,47.3 79.2,54.5 81.6,72.3 84.0,85.2 86.5,91.6 88.9,97.3 92.1,100.5 96.3,101.8" fill="none" stroke="#8c1636" stroke-width="1.9" stroke-linejoin="round" stroke-linecap="round"/>
<polyline points="96.3,101.3 97.5,102.4 98.7,100.9 99.9,102.6 101.1,101.2 102.3,102.0 103.5,100.8 104.7,102.3 105.9,101.2 107.1,102.3 108.3,101.1 109.5,102.4 110.7,101.3 111.9,102.0 113.1,100.7 114.3,102.1 115.5,101.2 116.7,102.4 117.9,100.9 119.1,101.9 120.3,101.0 121.5,102.3 122.7,101.3 123.9,102.3 125.1,101.3 126.3,102.1 127.5,101.3 128.7,102.0 129.9,100.6 131.1,102.1 132.3,100.6 133.5,102.2 134.7,100.9 135.9,102.5 137.1,100.9 138.3,101.9 139.5,100.9 140.7,102.3 141.9,101.3 143.1,101.9 144.3,100.7 145.5,102.2 146.7,101.2 147.9,102.2 149.1,101.2 150.3,102.4 151.5,101.0 152.7,101.9 153.9,100.7 155.1,101.9 156.3,101.2 157.5,101.8" fill="none" stroke="#8c1636" stroke-width="1.8" stroke-linejoin="round" stroke-linecap="round"/>
<polyline points="217.6,104.7 218.4,105.1 219.2,105.1 220.0,105.0 220.8,104.7 221.6,105.2 222.4,105.2 223.2,105.0 224.0,104.9 224.8,104.7 225.6,104.5 226.4,104.8 227.2,105.0 228.0,104.5 228.8,105.1 229.6,104.7 230.4,104.7 231.2,104.5 232.0,105.2 232.8,105.0 233.6,105.1 234.4,104.9 235.2,104.4 236.0,104.7 236.8,104.8 237.6,104.5 238.4,105.1 239.2,104.7 240.0,104.5 240.8,105.0 241.6,104.4 242.4,105.1 243.2,104.7 244.0,104.8 244.8,104.6 245.6,104.7 246.4,104.4 247.2,104.0 248.1,104.3 248.9,103.4 249.7,103.5 250.6,102.6 251.4,102.9 252.2,102.4 253.1,102.0 253.9,101.6 254.7,101.1 255.6,100.9 256.4,100.0 257.2,99.8 258.0,99.7 258.9,98.7 259.7,98.8 260.5,98.4 261.3,97.5 262.1,97.0 263.0,96.7 263.8,96.2 264.6,96.2 265.5,95.2 266.4,94.4 267.3,93.9 268.1,93.9 269.0,93.6 269.9,92.7 270.8,92.2 271.7,92.1 272.5,92.1 273.4,91.5 274.3,91.7 275.2,91.5 276.0,91.4 276.9,90.9 277.8,91.2 278.7,91.5 279.6,92.2 280.4,91.9 281.3,92.3 282.2,92.3 283.1,92.4 284.0,92.7 284.8,93.6 285.7,93.9 286.6,93.9 287.5,94.5 288.3,94.8 289.2,95.3 290.1,95.8 291.0,95.8 291.9,96.7 292.7,97.1 293.6,97.2 294.5,97.9 295.4,98.0 296.2,98.2 297.1,98.3 297.9,99.1 298.8,98.8 299.6,99.0 300.5,99.8 301.3,100.1 302.2,100.1 303.0,100.7 303.8,100.2 304.7,100.4 305.5,100.6 306.3,100.8 307.2,100.7 308.0,100.7 308.8,101.1 309.6,101.6 310.5,101.8 311.3,101.8 312.1,101.7 313.0,101.6 313.8,102.3 314.6,101.9 315.5,102.1 316.3,101.6 317.1,101.7 318.0,102.3 318.8,102.3 319.6,102.3 320.4,102.1 321.3,102.0 322.1,102.2 322.9,102.4 323.8,102.0 324.6,102.2 325.4,102.0 326.3,102.4 327.1,101.8 327.9,102.4 328.8,102.6 329.6,101.9 330.4,102.4 331.2,102.4 332.1,102.6 332.9,102.4 333.7,102.2 334.6,102.3 335.4,102.8" fill="none" stroke="#22396c" stroke-width="1.7" stroke-linejoin="round" stroke-linecap="round"/>
<polyline points="217.6,105.7 218.4,104.4 219.2,104.2 220.0,105.7 220.8,104.4 221.6,104.3 222.4,105.1 223.2,104.6 224.1,105.4 224.9,104.4 225.7,105.5 226.5,104.5 227.3,104.9 228.1,105.4 228.9,105.0 229.7,105.3 230.5,105.0 231.3,103.9 232.1,105.2 232.9,104.7 233.7,104.3 234.5,104.0 235.3,105.1 236.2,104.6 237.0,105.2 237.8,104.9 238.6,105.2 239.4,104.5 240.2,104.7 241.0,104.5 241.8,103.9 242.6,105.0 243.4,104.0 244.2,104.7 245.0,105.0 245.8,104.5 246.6,103.6 247.4,104.7 248.3,104.4 249.1,103.6 249.9,103.4 250.7,104.1 251.5,103.3 252.3,104.7 253.1,104.0 253.9,104.0 254.8,102.6 255.6,101.8 256.4,100.9 257.3,98.7 258.1,97.5 259.0,96.6 259.8,94.9 260.7,94.2 261.5,92.8 262.3,91.4 263.2,90.5 264.0,89.0 265.1,87.1 266.2,87.3 267.2,85.8 268.2,85.4 269.2,84.8 270.4,85.5 271.5,85.3 272.6,85.6 273.8,86.3 274.8,87.9 275.9,91.3 276.9,92.2 277.9,93.5 279.0,94.0 280.0,94.7 280.9,95.1 281.7,95.2 282.6,95.3 283.4,96.4 284.3,97.1 285.1,97.2 286.0,96.9 286.8,98.0 287.7,97.3 288.6,98.0 289.4,98.9 290.3,99.2 291.1,98.6 292.0,99.4 292.8,99.1 293.7,99.3 294.5,99.6 295.4,100.4 296.2,99.9 297.0,99.3 297.8,99.6 298.7,99.3 299.5,98.8 300.3,99.3 301.1,99.3 301.9,98.8 302.7,99.2 303.6,97.6 304.4,98.2 305.2,98.3 306.0,97.7 306.8,97.7 307.6,98.7 308.5,98.4 309.3,98.3 310.1,98.1 310.9,99.8 311.8,99.0 312.6,98.8 313.4,99.1 314.2,99.4 315.1,100.5 315.9,99.6 316.7,99.9 317.5,99.8 318.4,100.6 319.2,100.4 320.0,100.8 320.8,101.4 321.7,101.8 322.5,101.7 323.3,100.5 324.2,101.1 325.0,101.9 325.8,100.6 326.7,101.0 327.5,101.5 328.3,101.4 329.2,102.0 330.0,102.0 330.8,101.7 331.7,101.4 332.5,101.4 333.3,101.5 334.2,101.2 335.0,102.3" fill="none" stroke="#5eaed6" stroke-width="1.6" stroke-linejoin="round" stroke-linecap="round"/>
<polyline points="217.6,105.8 218.4,105.8 219.2,105.6 220.0,104.2 220.8,105.1 221.6,104.7 222.4,104.9 223.2,104.1 224.0,104.2 224.9,104.6 225.7,104.2 226.5,104.6 227.3,103.8 228.1,103.9 228.9,105.0 229.7,104.4 230.5,104.6 231.3,104.9 232.1,104.2 232.9,103.7 233.7,104.9 234.5,104.6 235.3,104.7 236.1,104.6 236.9,105.2 237.7,104.0 238.5,104.7 239.4,104.0 240.2,104.3 241.0,104.5 241.8,103.8 242.6,103.4 243.4,104.0 244.2,104.4 245.0,104.2 245.8,103.9 246.8,100.5 247.9,95.9 248.9,92.1 249.7,88.2 250.6,84.9 251.4,79.7 252.5,78.6 253.5,77.7 254.6,76.8 255.6,77.8 256.7,79.0 257.7,80.1 258.7,78.4 259.8,77.6 260.8,76.6 261.8,80.1 262.7,84.4 263.6,86.1 264.4,87.7 265.3,89.5 266.1,92.8 267.0,94.8 267.8,97.1 268.7,97.0 269.6,98.5 270.6,100.1 271.5,100.5 272.4,101.2 273.2,99.9 274.1,101.5 274.9,100.0 275.8,100.7 276.6,100.2 277.4,101.7 278.3,101.6 279.1,102.2 280.0,102.0 280.8,102.3 281.6,101.6 282.4,102.4 283.2,102.0 284.0,101.3 284.9,102.4 285.7,101.4 286.5,101.1 287.3,100.9 288.1,101.6 288.9,101.1 289.7,102.5 290.5,102.5 291.3,101.2 292.1,101.0 292.9,101.8 293.8,101.2 294.6,101.8 295.4,102.3 296.2,101.3 297.0,101.7 297.8,102.5 298.6,101.7 299.4,101.6 300.2,102.6 301.0,102.4 301.8,102.6 302.6,102.2 303.5,101.8 304.3,102.3 305.1,102.5 305.9,102.2 306.7,101.5 307.5,101.6 308.3,101.9 309.1,102.5 309.9,102.1 310.7,102.1 311.5,102.7 312.4,101.4 313.2,102.3 314.0,101.8 314.8,102.2 315.6,102.8 316.4,101.7 317.2,103.0 318.0,101.4 318.8,102.3 319.6,102.3 320.4,101.8 321.2,102.4 322.1,102.2 322.9,102.2 323.7,102.7 324.5,101.4 325.3,102.1 326.1,102.9 326.9,101.7 327.7,103.0 328.5,101.8 329.3,102.7 330.1,101.8 331.0,102.3 331.8,102.3 332.6,101.7 333.4,102.8 334.2,102.4 335.0,102.8" fill="none" stroke="#b5176f" stroke-width="1.7" stroke-linejoin="round" stroke-linecap="round"/>
<polyline points="217.6,105.2 218.4,105.3 219.2,104.7 220.0,105.5 220.8,104.6 221.7,105.1 222.5,104.5 223.3,105.2 224.1,104.6 224.9,105.1 225.7,105.1 226.5,105.1 227.3,104.8 228.1,105.2 229.0,105.3 229.8,104.4 230.6,104.8 231.4,105.3 232.2,105.0 233.0,104.7 233.8,104.6 234.6,105.2 235.4,104.3 236.3,105.0 237.1,105.1 237.9,104.4 238.7,104.5 239.5,104.5 240.4,102.9 241.3,100.8 242.1,99.5 243.0,97.6 243.9,95.1 244.7,90.7 245.6,84.8 246.4,79.8 247.4,77.2 248.3,74.2 249.3,73.8 250.4,73.5 251.4,73.0 252.5,73.2 253.5,74.5 254.6,75.5 255.4,77.2 256.3,80.2 257.1,82.4 258.1,84.8 259.2,87.7 260.2,90.4 261.1,92.6 262.1,93.6 263.1,95.9 264.0,98.3 264.9,99.0 265.9,99.7 266.9,100.3 267.8,101.6 268.6,101.3 269.4,101.7 270.2,101.7 271.1,101.5 271.9,102.0 272.7,101.6 273.5,101.7 274.3,102.1 275.1,101.6 275.9,101.5 276.7,101.9 277.6,101.8 278.4,102.3 279.2,101.7 280.0,101.9 280.8,101.6 281.6,102.0 282.4,101.8 283.2,102.0 284.0,102.3 284.9,101.6 285.7,102.5 286.5,102.3 287.3,102.4 288.1,102.1 288.9,102.2 289.7,102.0 290.5,102.0 291.3,101.8 292.1,101.9 292.9,101.9 293.8,102.0 294.6,102.5 295.4,102.4 296.2,102.3 297.0,101.7 297.8,101.9 298.6,102.2 299.4,102.4 300.2,102.1 301.0,102.3 301.8,102.6 302.6,102.0 303.5,102.1 304.3,102.5 305.1,102.0 305.9,102.5 306.7,102.1 307.5,101.8 308.3,102.2 309.1,101.8 309.9,102.6 310.7,102.6 311.5,102.3 312.4,102.7 313.2,102.0 314.0,102.3 314.8,102.0 315.6,101.9 316.4,102.7 317.2,101.9 318.0,102.8 318.8,102.4 319.6,102.6 320.4,101.9 321.2,102.8 322.1,102.7 322.9,102.0 323.7,102.1 324.5,102.0 325.3,102.4 326.1,102.0 326.9,102.7 327.7,102.4 328.5,102.6 329.3,102.2 330.1,102.6 331.0,102.4 331.8,102.6 332.6,102.4 333.4,103.0 334.2,102.8 335.0,102.8" fill="none" stroke="#6dab48" stroke-width="1.7" stroke-linejoin="round" stroke-linecap="round"/>
<polyline points="217.6,105.0 235.1,104.7 239.5,97.8 242.6,82.7 245.1,74.5 247.6,71.4 250.2,71.4 252.7,72.6 254.6,80.2 255.2,90.2 257.7,87.7 259.0,96.5 260.8,101.5" fill="none" stroke="#8c1636" stroke-width="1.9" stroke-linejoin="round" stroke-linecap="round"/>
<polyline points="260.8,100.5 262.3,103.4 263.7,99.7 265.2,97.8 266.6,99.6 268.1,102.8 269.5,100.9 271.0,103.3 272.4,100.5 273.9,102.2 275.3,95.5 276.8,102.6 278.2,100.7 279.7,102.8 281.1,99.5 282.6,102.4 284.0,99.5 285.5,97.7 286.9,99.4 288.4,101.8 289.8,100.2 291.3,102.3 292.7,100.5 294.2,103.0 295.6,94.3 297.1,101.6 298.5,99.7 300.0,101.5 301.4,100.7 302.8,101.4 304.2,100.6 305.6,101.5 307.0,100.6 308.4,101.9 309.8,101.1 311.2,102.3 312.6,101.2 314.0,101.9 315.4,100.7 316.8,102.0 318.2,101.1 319.6,102.4 321.0,101.2 322.4,102.4 323.8,101.3 325.2,102.5 326.6,101.7 328.0,102.9 329.4,101.7 330.8,102.4 332.2,101.7 333.6,103.1 335.0,101.6" fill="none" stroke="#8c1636" stroke-width="1.8" stroke-linejoin="round" stroke-linecap="round"/>
<polyline points="300.0,101.0 301.4,102.4 302.8,101.6 304.2,102.8 305.6,101.7 307.0,103.0 308.4,101.0 309.8,102.3 311.2,101.1 312.6,102.7 314.0,101.1 315.4,103.2 316.8,100.8 318.2,102.6 319.6,100.9 321.0,103.0 322.4,100.8 323.8,102.3 325.2,100.9 326.6,102.5 328.0,101.6 329.4,102.8 330.8,101.0 332.2,103.2 333.6,101.4 335.0,103.0" fill="none" stroke="#22396c" stroke-width="1.6" stroke-linejoin="round" stroke-linecap="round"/>
<polyline points="387.7,104.7 505.0,104.7" fill="none" stroke="#22396c" stroke-width="1.6" stroke-linejoin="round" stroke-linecap="round"/>
<polyline points="387.7,104.7 405.0,104.7 410.1,101.5 413.8,95.9 417.6,90.8 421.4,83.9 423.9,79.5 427.0,76.4 428.9,72.0 432.1,65.1 434.0,67.0 435.8,70.7 437.7,72.0 439.6,77.0 441.5,78.3 442.8,84.6 445.3,86.4 447.2,89.0 448.4,94.0 451.2,91.9 452.4,93.1 453.6,98.5 457.2,97.3 459.5,98.5 463.1,100.3 466.7,100.3 470.3,100.9 472.6,98.5 473.8,102.0 475.0,97.3 476.8,102.6 478.6,99.0 481.0,102.0 483.4,99.0 485.8,101.5 489.3,97.9 491.1,102.6 494.1,100.3 497.7,100.9 501.3,101.5 502.4,102.6" fill="none" stroke="#b6187a" stroke-width="1.9" stroke-linejoin="round" stroke-linecap="round"/>
<polyline points="41.5,246.8 149.0,233.7" fill="none" stroke="#6dab48" stroke-width="1.9" stroke-linejoin="round" stroke-linecap="round"/>
<polyline points="41.5,246.8 42.4,246.7 43.3,246.5 44.2,246.2 45.1,245.9 46.0,245.5 46.9,245.0 47.8,244.6 48.7,244.1 49.6,243.5 50.5,243.0 51.4,242.4 52.2,241.8 53.1,241.2 54.0,240.5 54.9,239.9 55.8,239.2 56.7,238.6 57.6,237.9 58.5,237.3 59.4,236.6 60.3,236.0 61.2,235.3 62.1,234.7 63.0,234.1 63.9,233.4 64.8,232.8 65.7,232.2 66.6,231.6 67.5,231.0 68.4,230.5 69.3,229.9 70.2,229.4 71.1,228.8 72.0,228.3 72.9,227.8 73.8,227.3 74.6,226.9 75.5,226.4 76.4,226.0 77.3,225.6 78.2,225.2 79.1,224.8 80.0,224.4 80.9,224.0 81.8,223.7 82.7,223.3 83.6,223.0 84.5,222.7 85.4,222.4 86.3,222.1 87.2,221.9 88.1,221.6 89.0,221.4 89.9,221.2 90.8,220.9 91.7,220.7 92.6,220.5 93.5,220.4 94.4,220.2 95.2,220.0 96.1,219.9 97.0,219.7 97.9,219.6 98.8,219.4 99.7,219.3 100.6,219.2 101.5,219.1 102.4,219.0 103.3,218.9 104.2,218.8 105.1,218.7 106.0,218.6 106.9,218.5 107.8,218.5 108.7,218.4 109.6,218.3 110.5,218.3 111.4,218.2 112.3,218.2 113.2,218.1 114.1,218.1 115.0,218.1 115.9,218.0 116.8,218.0 117.6,218.0 118.5,217.9 119.4,217.9 120.3,217.9 121.2,217.8 122.1,217.8 123.0,217.8 123.9,217.8 124.8,217.8 125.7,217.7 126.6,217.7 127.5,217.7 128.4,217.7 129.3,217.7 130.2,217.7 131.1,217.7 132.0,217.7 132.9,217.7 133.8,217.6 134.7,217.6 135.6,217.6 136.5,217.6 137.4,217.6 138.2,217.6 139.1,217.6 140.0,217.6 140.9,217.6 141.8,217.6 142.7,217.6 143.6,217.6 144.5,217.6 145.4,217.6 146.3,217.6 147.2,217.6 148.1,217.6 149.0,217.6" fill="none" stroke="#8c1636" stroke-width="2.0" stroke-linejoin="round" stroke-linecap="round"/>
<polyline points="41.5,246.8 42.4,239.1 43.3,232.6 44.2,227.3 45.1,222.8 46.0,219.0 46.9,215.9 47.8,213.3 48.7,211.1 49.6,209.2 50.5,207.7 51.4,206.4 52.2,205.4 53.1,204.5 54.0,203.7 54.9,203.1 55.8,202.6 56.7,202.2 57.6,201.8 58.5,201.5 59.4,201.3 60.3,201.0 61.2,200.9 62.1,200.7 63.0,200.6 63.9,200.5 64.8,200.4 65.7,200.3 66.6,200.3 67.5,200.2 68.4,200.2 69.3,200.2 70.2,200.1 71.1,200.1 72.0,200.1 72.9,200.1 73.8,200.1 74.6,200.0 75.5,200.0 76.4,200.0 77.3,200.0 78.2,200.0 79.1,200.0 80.0,200.0 80.9,200.0 81.8,200.0 82.7,200.0 83.6,200.0 84.5,200.0 85.4,200.0 86.3,200.0 87.2,200.0 88.1,200.0 89.0,200.0 89.9,200.0 90.8,200.0 91.7,200.0 92.6,200.0 93.5,200.0 94.4,200.0 95.2,200.0 96.1,200.0 97.0,200.0 97.9,200.0 98.8,200.0 99.7,200.0 100.6,200.0 101.5,200.0 102.4,200.0 103.3,200.0 104.2,200.0 105.1,200.0 106.0,200.0 106.9,200.0 107.8,200.0 108.7,200.0 109.6,200.0 110.5,200.0 111.4,200.0 112.3,200.0 113.2,200.0 114.1,200.0 115.0,200.0 115.9,200.0 116.8,200.0 117.6,200.0 118.5,200.0 119.4,200.0 120.3,200.0 121.2,200.0 122.1,200.0 123.0,200.0 123.9,200.0 124.8,200.0 125.7,200.0 126.6,200.0 127.5,200.0 128.4,200.0 129.3,200.0 130.2,200.0 131.1,200.0 132.0,200.0 132.9,200.0 133.8,200.0 134.7,200.0 135.6,200.0 136.5,200.0 137.4,200.0 138.2,200.0 139.1,200.0 140.0,200.0 140.9,200.0 141.8,200.0 142.7,200.0 143.6,200.0 144.5,200.0 145.4,200.0 146.3,200.0 147.2,200.0 148.1,200.0 149.0,200.0" fill="none" stroke="#b5176f" stroke-width="2.0" stroke-linejoin="round" stroke-linecap="round"/>
<rect x="44.5" y="220.6" width="3.0" height="3.0" fill="#b5176f"/>
<rect x="49.0" y="207.3" width="3.0" height="3.0" fill="#b5176f"/>
<rect x="57.9" y="200.1" width="3.0" height="3.0" fill="#b5176f"/>
<rect x="66.9" y="196.8" width="3.0" height="3.0" fill="#b5176f"/>
<rect x="75.8" y="202.0" width="3.0" height="3.0" fill="#b5176f"/>
<rect x="93.8" y="203.0" width="3.0" height="3.0" fill="#b5176f"/>
<rect x="111.7" y="200.1" width="3.0" height="3.0" fill="#b5176f"/>
<rect x="129.6" y="196.8" width="3.0" height="3.0" fill="#b5176f"/>
<rect x="147.5" y="191.6" width="3.0" height="3.0" fill="#b5176f"/>
<polygon points="48.6,247.1 52.4,247.1 50.5,243.3" fill="#8c1636"/>
<polygon points="57.5,240.0 61.3,240.0 59.4,236.2" fill="#8c1636"/>
<polygon points="66.5,236.2 70.3,236.2 68.4,232.4" fill="#8c1636"/>
<polygon points="75.4,228.1 79.2,228.1 77.3,224.3" fill="#8c1636"/>
<polygon points="93.3,222.8 97.2,222.8 95.2,219.0" fill="#8c1636"/>
<polygon points="111.3,221.9 115.1,221.9 113.2,218.1" fill="#8c1636"/>
<polygon points="129.2,222.4 133.0,222.4 131.1,218.6" fill="#8c1636"/>
<polygon points="147.1,215.2 150.9,215.2 149.0,211.4" fill="#8c1636"/>
<polygon points="48.6,244.1 52.4,244.1 50.5,247.9" fill="#6dab48"/>
<polygon points="57.5,242.7 61.3,242.7 59.4,246.5" fill="#6dab48"/>
<polygon points="66.5,239.6 70.3,239.6 68.4,243.4" fill="#6dab48"/>
<polygon points="75.4,234.2 79.2,234.2 77.3,238.0" fill="#6dab48"/>
<polygon points="93.3,238.0 97.2,238.0 95.2,241.8" fill="#6dab48"/>
<polygon points="111.3,236.5 115.1,236.5 113.2,240.3" fill="#6dab48"/>
<polygon points="129.2,236.5 133.0,236.5 131.1,240.3" fill="#6dab48"/>
<polygon points="147.1,229.6 150.9,229.6 149.0,233.4" fill="#6dab48"/>
<rect x="48.9" y="149.0" width="3.0" height="3.0" fill="#b5176f"/>
<polygon points="48.5,164.3 52.3,164.3 50.4,160.5" fill="#8c1636"/>
<circle cx="50.4" cy="174.2" r="1.7" fill="#22396c"/>
<polygon points="48.5,184.3 52.3,184.3 50.4,188.1" fill="#6dab48"/>
<polyline points="217.7,246.2 218.9,246.3 220.0,246.0 221.2,246.4 222.3,246.0 223.5,246.1 224.6,245.9 225.8,246.2 226.9,245.8 228.1,246.1 229.2,245.6 230.4,245.8 231.5,245.5 232.7,245.8 233.8,245.4 235.0,245.8 236.1,245.4 237.3,245.5 238.6,244.5 240.0,244.4 241.3,243.5 242.5,241.6 243.6,239.3 244.8,237.6 246.2,233.7 247.7,230.5 249.1,227.6 250.6,225.8 252.1,221.1 253.5,219.6 254.7,217.5 255.8,217.4 257.0,217.2 258.1,219.7 260.1,216.3 262.1,220.7 263.2,220.0 264.4,222.3 266.1,224.9 267.2,228.0 268.4,228.5 269.6,231.6 270.8,232.7 272.0,234.8 273.1,235.4 274.2,236.9 275.4,236.9 276.5,238.9 277.7,239.0 278.8,241.1 280.0,240.3 281.1,242.8 282.2,241.3 283.4,243.2 284.6,242.4 285.7,243.4 286.9,242.6 288.0,244.0 289.2,243.0 290.4,244.0 291.5,243.7 292.7,245.0 293.8,243.7 295.0,245.2 296.1,244.3 297.2,245.0 298.3,243.8 299.4,245.3 300.6,243.8 301.7,245.0 302.8,244.2 303.9,245.5 305.0,244.3 306.1,245.6 307.2,244.3 308.3,245.2 309.4,244.7 310.6,245.9 311.7,244.8 312.8,245.4 313.9,244.7 315.0,245.8 316.1,244.4 317.2,245.7 318.3,244.7 319.4,246.0 320.6,245.0 321.7,245.8 322.8,244.8 323.9,246.1 325.0,245.3 326.1,245.8 327.2,245.3 328.3,246.3 329.4,244.9 330.6,246.5 331.7,245.0 332.8,246.1 333.9,245.0 335.0,246.7" fill="none" stroke="#a8142e" stroke-width="2.0" stroke-linejoin="round" stroke-linecap="round"/>
<polyline points="300.0,243.5 301.2,245.7 302.4,243.4 303.6,245.9 304.8,244.0 306.0,246.1 307.2,243.7 308.4,245.9 309.7,243.6 310.9,246.2 312.1,244.2 313.3,245.6 314.5,243.8 315.7,246.0 316.9,243.8 318.1,245.8 319.3,243.6 320.5,245.4 321.7,244.0 322.9,245.9 324.1,244.9 325.3,246.3 326.6,244.9 327.8,245.9 329.0,244.6 330.2,245.9 331.4,244.9 332.6,245.8 333.8,244.2 335.0,245.9" fill="none" stroke="#a8142e" stroke-width="1.6" stroke-linejoin="round" stroke-linecap="round"/>
<polyline points="217.7,245.7 218.8,245.9 219.9,245.6 221.0,246.0 222.1,245.5 223.2,245.8 224.3,245.5 225.5,245.7 226.6,245.2 227.7,245.6 228.8,245.1 229.9,245.6 231.0,245.2 232.1,245.4 233.2,245.0 234.3,245.3 235.4,245.1 236.5,245.4 237.6,244.8 238.7,245.3 239.9,244.7 241.0,245.1 242.1,244.9 243.2,245.0 244.3,244.6 245.4,244.9 246.5,244.7 247.7,244.2 248.8,243.3 250.0,242.8 251.1,241.6 252.3,241.6 253.5,239.9 254.6,240.0 255.8,237.9 256.9,237.8 258.1,235.5 259.2,235.1 260.4,232.5 261.5,232.2 262.7,227.0 263.9,228.7 265.0,228.8 266.1,228.4 267.3,226.5 268.4,226.6 269.6,225.0 270.7,225.2 271.9,224.1 273.0,225.0 274.2,223.6 275.4,225.4 276.5,225.3 277.7,226.5 278.8,226.9 280.0,228.8 281.1,229.4 282.3,231.9 283.4,233.0 284.6,235.2 285.8,236.1 286.9,238.3 288.1,238.1 289.2,240.8 290.4,239.9 291.5,241.5 292.6,240.4 293.8,242.1 295.0,241.4 296.3,242.8 297.5,242.4 298.8,243.5 300.0,242.9 301.1,243.8 302.3,242.8 303.4,243.9 304.5,242.9 305.6,244.1 306.8,242.8 307.9,243.6 309.0,243.1 310.2,243.5 311.3,243.2 312.4,244.1 313.5,242.8 314.7,244.1 315.8,242.6 316.9,243.6 318.1,242.5 319.2,244.0 320.3,242.8 321.5,243.4 322.6,242.8 323.7,243.4 324.8,242.8 326.0,243.3 327.1,242.5 328.2,243.9 329.4,242.8 330.5,243.7 331.6,242.5 332.7,243.5 333.9,242.3 335.0,243.4" fill="none" stroke="#6dab48" stroke-width="2.0" stroke-linejoin="round" stroke-linecap="round"/>
<polyline points="293.0,241.9 294.0,245.3 295.0,240.8 296.0,245.1 297.0,241.1 298.0,245.0 299.0,242.5 300.0,244.6 301.0,242.0 302.0,244.8 303.0,241.7 304.0,244.4 305.0,241.5 306.0,244.5 307.0,241.0 308.0,245.2 309.0,241.8 310.0,244.9 311.0,240.8 312.0,244.1 313.0,242.2 314.0,244.3 315.0,241.0 316.0,244.3 317.0,242.1 318.0,244.6 319.0,241.8 320.0,245.0 321.0,242.1 322.0,244.4 323.0,241.7 324.0,245.1 325.0,242.1 326.0,244.9 327.0,241.6 328.0,244.0 329.0,242.0 330.0,244.2 331.0,240.6 332.0,245.1 333.0,240.6 334.0,244.4 335.0,241.9" fill="none" stroke="#6dab48" stroke-width="2.0" stroke-linejoin="round" stroke-linecap="round"/>
<polyline points="217.7,246.1 218.8,246.5 219.9,246.0 221.0,246.3 222.2,246.0 223.3,246.4 224.4,245.8 225.5,246.2 226.6,245.8 227.7,246.2 228.8,245.8 230.0,246.3 231.1,245.7 232.2,246.1 233.3,245.6 234.4,246.0 235.5,245.7 236.6,245.9 237.7,245.6 238.9,245.8 240.0,245.5 241.1,245.9 242.2,245.5 243.3,245.8 244.4,245.3 245.5,245.7 246.7,245.3 247.8,245.6 248.9,245.4 250.0,245.7 251.2,245.0 252.3,245.0 253.5,244.4 254.6,244.6 255.8,244.0 256.9,244.0 258.1,243.5 259.2,243.3 260.4,242.5 261.6,242.8 262.7,241.3 263.9,241.7 265.0,240.5 266.2,240.4 267.3,239.2 268.5,239.5 269.6,237.3 270.8,237.9 271.9,236.2 273.1,235.8 274.2,234.4 275.4,234.2 276.5,232.6 277.7,232.3 278.8,230.7 280.0,230.7 281.1,229.1 282.3,229.7 283.5,226.8 284.6,227.9 285.8,227.0 287.0,228.5 288.1,227.5 289.2,228.4 290.4,227.9 291.6,229.2 292.7,228.3 293.9,230.0 295.0,229.6 296.1,231.4 297.3,231.3 298.5,233.4 299.6,233.4 300.8,235.6 302.0,235.0 303.1,236.8 304.2,240.1 305.4,241.8 306.5,241.5 307.7,242.3 308.9,241.9 310.1,243.6 311.4,242.8 312.6,244.2 313.8,243.6 315.0,244.9 316.1,243.7 317.2,245.5 318.3,244.1 319.4,244.9 320.6,244.3 321.7,245.6 322.8,244.5 323.9,245.2 325.0,244.7 326.1,245.7 327.2,244.5 328.3,245.6 329.4,244.6 330.6,246.0 331.7,244.5 332.8,246.2 333.9,245.0 335.0,246.3" fill="none" stroke="#b5176f" stroke-width="2.2" stroke-linejoin="round" stroke-linecap="round"/>
<polyline points="217.7,246.1 218.9,246.5 220.1,246.0 221.3,246.5 222.5,246.0 223.7,246.4 224.9,245.9 226.1,246.4 227.3,246.1 228.5,246.3 229.8,246.0 231.0,246.3 232.2,246.0 233.4,246.3 234.6,245.9 235.8,246.3 237.0,246.0 238.2,246.1 239.4,245.9 240.6,246.2 241.8,245.8 243.0,246.3 244.2,245.7 245.4,246.2 246.6,245.8 247.8,246.1 249.0,245.8 250.2,246.0 251.4,245.7 252.6,246.1 253.8,245.7 255.1,246.0 256.3,245.7 257.5,246.0 258.7,245.6 259.9,246.0 261.1,245.6 262.3,246.1 263.5,245.7 264.7,245.9 265.9,245.6 267.1,246.0 268.3,245.5 269.5,245.9 270.7,245.5 271.9,245.8 273.1,245.4 274.3,245.8 275.5,245.4 276.7,245.9 277.9,245.5 279.2,245.8 280.4,245.5 281.6,245.7 282.8,245.5 284.0,245.7 285.2,245.5 286.4,245.7 287.6,245.4 288.8,245.7 290.0,245.3 291.2,245.5 292.5,245.0 293.8,245.3 295.0,244.8 296.2,245.1 297.5,244.5 298.8,244.9 300.0,243.5 301.2,245.7 302.5,243.9 303.8,245.3 305.0,243.3 306.2,244.6 307.5,242.5 308.8,244.8 310.0,242.8 311.2,244.1 312.5,242.5 313.8,244.4 315.0,241.8 316.2,243.3 317.5,241.6 318.8,242.7 320.0,241.5 321.2,242.9 322.5,240.4 323.8,243.0 325.0,240.5 326.2,242.6 327.5,240.6 328.8,242.3 330.0,239.5 331.2,241.4 332.5,239.3 333.8,242.1 335.0,239.8" fill="none" stroke="#22396c" stroke-width="1.6" stroke-linejoin="round" stroke-linecap="round"/>
<polyline points="387.8,246.7 388.6,246.5 389.5,246.4 390.3,247.1 391.1,246.7 392.0,246.8 392.8,246.6 393.6,246.3 394.4,246.6 395.3,246.4 396.1,246.6 396.9,246.4 397.8,246.6 398.6,246.1 399.4,245.8 400.3,245.7 401.1,246.3 401.9,245.7 402.7,246.1 403.6,246.0 404.4,245.4 405.2,246.1 406.1,245.3 406.9,246.1 407.8,244.3 408.8,241.9 409.7,240.6 410.7,238.8 411.6,236.4 412.5,233.7 413.4,229.9 414.3,227.5 415.2,224.0 416.2,221.7 417.2,218.2 418.2,215.8 419.4,215.0 420.5,213.8 421.5,215.1 422.5,217.6 423.5,219.3 424.7,222.4 425.9,225.7 426.8,227.8 427.6,229.0 428.5,230.8 429.4,232.1 430.3,233.5 431.2,234.6 432.1,236.2 433.0,238.0 433.9,239.0 434.8,239.4 435.7,240.5 436.6,241.0 437.4,241.5 438.3,241.5 439.1,241.3 440.0,241.2 440.8,241.3 441.6,241.4 442.5,242.4 443.3,242.6 444.2,242.6 445.0,242.1 445.8,242.7 446.6,242.1 447.4,242.9 448.2,242.7 449.0,242.8 449.8,242.6 450.6,242.5 451.4,242.9 452.2,243.0 453.0,242.3 453.8,242.5 454.6,242.8 455.4,242.8 456.2,242.5 457.0,242.6 457.8,243.1 458.6,242.4 459.4,242.3 460.2,242.8 461.0,242.4 461.8,243.0 462.6,242.5 463.4,243.1 464.2,242.5 465.0,243.1 465.8,242.9 466.6,242.9 467.4,242.4 468.2,242.4 469.0,242.2 469.8,242.4 470.6,242.9 471.4,242.3 472.2,242.5 473.0,242.8 473.8,242.4 474.6,242.6 475.4,242.5 476.2,242.9 477.0,242.4 477.8,243.3 478.6,242.9 479.4,243.0 480.2,242.8 481.0,242.8 481.8,243.3 482.6,243.2 483.4,243.1 484.2,242.4 485.0,242.9 485.8,243.3 486.6,243.0 487.4,242.9 488.2,243.0 489.0,242.5 489.8,243.1 490.6,243.2 491.4,242.5 492.2,242.9 493.0,243.0 493.8,242.8 494.6,243.1 495.4,243.3 496.2,243.3 497.0,242.7 497.8,242.6 498.6,243.3 499.4,243.1 500.2,243.3 501.0,243.3 501.8,242.8 502.6,243.1 503.4,242.8 504.2,243.3 505.0,243.2" fill="none" stroke="#6dab48" stroke-width="1.8" stroke-linejoin="round" stroke-linecap="round"/>
<polyline points="387.8,246.6 388.9,246.8 390.1,246.6 391.2,246.7 392.3,246.3 393.5,246.7 394.6,246.2 395.7,246.5 396.9,246.2 398.0,246.3 399.1,246.1 400.2,246.3 401.4,246.0 402.5,246.2 403.6,245.8 404.8,246.1 405.9,245.8 407.0,246.0 408.2,245.5 409.3,245.8 410.5,244.1 411.6,243.3 412.8,241.6 414.0,240.5 415.4,237.7 416.8,235.8 418.2,233.2 419.6,231.3 421.1,228.8 422.5,228.5 423.9,227.2 425.3,227.7 426.9,221.6 428.3,224.5 429.6,223.8 430.8,226.6 432.2,227.1 433.7,231.5 435.1,230.9 436.5,234.4 437.9,233.7 439.4,236.2 441.3,238.7 442.8,239.3 444.2,238.0 446.2,242.6 447.3,241.8 448.4,242.9 449.5,241.5 450.6,243.2 451.7,242.0 452.8,243.3 453.9,242.3 455.0,244.2 456.1,242.1 457.2,243.9 458.3,242.6 459.4,244.1 460.6,242.6 461.7,243.7 462.8,241.8 463.9,244.0 465.0,242.3 466.1,244.1 467.2,242.0 468.3,244.2 469.4,242.6 470.6,243.4 471.7,242.6 472.8,243.7 473.9,242.7 475.0,244.4 476.1,242.0 477.2,243.8 478.3,242.3 479.4,243.9 480.6,242.0 481.7,244.0 482.8,242.7 483.9,243.8 485.0,242.5 486.1,243.8 487.2,242.5 488.3,244.5 489.4,242.7 490.6,243.8 491.7,242.1 492.8,244.2 493.9,243.0 495.0,243.7 496.1,243.0 497.2,244.3 498.3,242.3 499.4,244.1 500.6,243.1 501.7,244.1 502.8,242.2 503.9,244.3 505.0,242.2" fill="none" stroke="#b5176f" stroke-width="2.0" stroke-linejoin="round" stroke-linecap="round"/>
<polyline points="387.8,245.2 388.7,245.9 389.6,245.5 390.5,245.9 391.4,246.2 392.3,246.4 393.2,246.2 394.1,246.4 395.0,246.1 395.8,246.3 396.7,246.2 397.5,246.4 398.4,246.1 399.2,246.1 400.1,245.8 400.9,245.4 401.7,245.4 402.5,244.8 403.3,243.9 404.1,243.0 404.9,242.8 405.7,242.2 406.6,238.7 407.5,234.8 408.4,231.0 409.3,227.4 410.5,222.5 411.6,217.4 412.8,215.1 414.0,213.5 414.9,212.5 415.8,211.1 416.7,213.1 417.6,214.3 418.8,216.9 420.0,220.5 421.1,223.2 422.3,226.4 423.5,228.6 424.7,230.6 425.6,234.5 426.5,238.2 427.4,237.1 428.3,235.5 429.5,238.0 430.6,240.6 431.5,240.4 432.4,241.3 433.3,241.5 434.2,241.2" fill="none" stroke="#a8142e" stroke-width="2.0" stroke-linejoin="round" stroke-linecap="round"/>
<polyline points="434.2,240.2 435.3,243.3 436.4,239.3 437.5,242.5 438.6,236.8 439.7,242.3 440.8,240.9 441.9,242.2 443.1,240.9 444.2,243.3 445.3,239.2 446.4,243.7 447.5,240.5 448.6,236.5 449.7,239.8 450.8,243.0 451.9,241.2 453.0,244.1 454.1,240.0 455.2,242.6 456.3,241.2 457.4,242.6 458.5,237.3 459.6,242.7 460.8,240.1 461.9,244.5 463.0,241.4 464.1,243.3 465.2,240.5 466.3,244.4 467.4,241.1 468.5,236.4 469.6,241.0 470.7,242.7 471.8,240.2 472.9,244.3 474.0,240.7 475.1,242.7 476.2,240.1 477.3,244.2 478.4,237.1 479.6,243.4 480.7,239.9 481.8,244.0 482.9,240.5 484.0,243.9 485.1,241.2 486.2,243.7 487.3,240.1 488.4,236.8 489.5,241.1 490.6,244.5 491.7,240.1 492.8,243.0 493.9,241.5 495.0,243.4 496.1,241.8 497.3,244.5 498.4,236.4 499.5,244.1 500.6,239.9 501.7,243.7 502.8,241.5 503.9,243.2 505.0,241.3" fill="none" stroke="#a8142e" stroke-width="2.0" stroke-linejoin="round" stroke-linecap="round"/>
<polyline points="387.8,246.7 389.1,247.0 390.5,246.7 391.8,246.9 393.2,246.7 394.5,246.8 395.9,246.6 397.2,246.8 398.5,246.6 399.9,246.9 401.2,246.6 402.6,246.9 403.9,246.6 405.2,246.9 406.6,246.4 407.9,246.7 409.3,246.3 410.6,246.8 411.9,246.5 413.3,246.7 414.6,246.3 416.0,246.8 417.3,246.4 418.7,246.6 420.0,246.3 421.3,246.7 422.7,246.3 424.0,246.4 425.3,246.0 426.7,246.3 428.0,245.9 429.3,246.3 430.7,245.7 432.0,246.1 433.3,245.6 434.7,246.0 436.0,245.4 437.3,245.8 438.7,245.4 440.0,245.6 441.3,245.2 442.7,245.6 444.0,245.2 445.3,245.4 446.7,245.1 448.0,245.3 449.3,244.8 450.7,245.4 452.0,244.4 453.3,245.7 454.7,244.5 456.0,245.3 457.3,244.4 458.7,245.1 460.0,243.6 461.3,245.1 462.6,244.1 463.9,245.1 465.2,243.3 466.5,244.6 467.8,243.4 469.1,244.2 470.4,243.3 471.7,244.2 473.0,243.2 474.3,244.3 475.7,242.9 477.0,243.8 478.3,242.3 479.6,243.4 480.9,242.3 482.2,243.2 483.5,242.1 484.8,243.4 486.1,241.6 487.4,242.8 488.7,241.4 490.0,242.6 491.4,241.6 492.7,242.0 494.1,240.7 495.5,242.4 496.8,241.2 498.2,242.0 499.5,240.4 500.9,242.0 502.3,240.8 503.6,241.2 505.0,240.3" fill="none" stroke="#22396c" stroke-width="1.6" stroke-linejoin="round" stroke-linecap="round"/>
<polyline points="41.8,381.6 43.0,382.7 44.3,382.5 45.5,383.6 46.8,383.1 48.0,384.3 49.2,383.6 50.5,384.6 51.7,384.0 52.9,385.1 54.2,384.7 55.4,385.4 56.6,384.5 57.8,383.9 59.0,382.4 60.2,381.7 62.0,380.2 63.8,379.4 65.2,379.3 66.7,380.1 68.2,377.2 69.7,375.9 71.5,371.5 73.3,369.1 75.0,364.4 76.8,362.0 78.0,358.6 79.2,357.1 80.4,352.9 82.8,354.1 84.0,347.2 85.7,348.0 87.5,348.0 88.7,347.9 89.9,345.5 92.3,348.8 94.6,347.2 95.8,352.0 97.0,352.0 98.8,361.6" fill="none" stroke="#a8142e" stroke-width="2.0" stroke-linejoin="round" stroke-linecap="round"/>
<polyline points="98.8,355.8 100.5,370.3 102.3,363.2 104.0,376.4 106.0,366.5 108.0,379.1 110.0,370.8 112.0,383.4 113.8,372.3 115.6,381.1 117.4,375.3 119.2,385.3 121.0,373.5 122.8,382.8 124.6,373.9 126.4,382.9 128.2,375.8 130.0,384.3 131.8,376.6 133.5,383.4 135.2,375.8 137.0,385.6 138.8,376.8 140.5,385.9 142.2,374.4 144.0,383.8 145.8,377.4 147.5,384.2 149.2,376.1 151.0,385.7 152.8,377.3 154.5,385.3 156.2,376.2 158.0,386.0" fill="none" stroke="#a8142e" stroke-width="1.9" stroke-linejoin="round" stroke-linecap="round"/>
<polyline points="41.8,381.7 43.0,382.7 44.3,382.6 45.5,383.6 46.8,383.2 48.0,384.3 49.2,383.9 50.5,384.7 51.7,384.3 52.9,385.2 54.2,384.5 55.4,385.5 56.9,385.0 58.5,385.7 60.0,385.0 61.2,385.6 62.4,384.8 63.7,385.4 64.9,384.5 66.1,385.1 67.3,383.6 68.5,383.2 69.7,381.4 71.5,378.2 73.3,374.1 75.0,371.9 76.8,368.2 78.2,367.4 79.6,365.9 81.0,365.5 82.8,357.5 84.2,357.8 85.7,353.5 87.1,354.3 88.5,352.2 89.9,353.5 92.3,349.5 93.8,350.4 95.2,347.2 96.5,351.3 97.7,350.5 99.0,353.6 100.2,354.9 101.4,358.9 103.1,361.3 104.4,364.9 105.8,365.5 107.1,369.5" fill="none" stroke="#6dab48" stroke-width="2.0" stroke-linejoin="round" stroke-linecap="round"/>
<polyline points="107.1,366.1 108.7,375.7 110.4,369.5 112.0,378.6 113.6,369.2 115.3,379.0 116.9,371.3 118.5,378.1 120.2,370.3 121.8,380.5 123.5,370.9 125.1,379.4 126.7,372.2 128.4,379.4 130.0,371.4 131.6,379.9 133.3,372.5 134.9,381.0 136.6,372.7 138.2,379.5 139.9,374.5 141.5,382.2 143.2,373.8 144.8,383.1 146.5,376.0 148.1,381.6 149.8,375.0 151.4,383.7 153.1,376.5 154.7,384.3 156.4,376.2 158.0,383.2" fill="none" stroke="#6dab48" stroke-width="2.0" stroke-linejoin="round" stroke-linecap="round"/>
<polyline points="41.8,382.0 43.3,382.9 44.9,383.0 46.5,383.9 48.0,383.8 49.5,384.5 51.0,384.1 52.4,384.9 53.9,384.5 55.4,385.4 56.7,384.9 58.1,385.5 59.4,385.1 60.8,385.6 62.1,385.1 63.4,385.8 64.8,385.2 66.1,386.1 67.5,385.4 68.9,385.5 70.2,384.9 71.6,385.2 73.0,384.6 74.4,384.8 75.9,383.6 77.4,383.4 78.9,381.9 80.4,381.9 81.8,381.0 83.2,381.0 84.7,379.9 86.1,380.0 87.5,379.0 88.9,379.1 90.3,377.8 91.8,378.1 93.2,376.9 94.6,377.1 96.2,375.5 97.8,374.9 99.4,373.4 101.0,373.4 102.6,371.3 104.2,371.1 105.8,368.6 107.2,368.9 108.5,366.4 109.8,367.2 111.2,364.8 112.5,365.9 113.9,363.8 115.2,363.9 116.5,362.4 117.9,363.3 119.2,361.7 120.6,363.5 121.9,361.0 123.3,363.2 124.6,360.7 126.0,362.8 127.3,360.0 128.7,362.0 130.0,360.1 131.3,361.6 132.7,359.5 134.1,364.5 135.4,364.9 136.8,367.6 138.1,366.7 139.5,368.2 140.8,367.6 142.1,370.0 143.4,369.5 144.8,372.4 146.1,371.5 147.4,373.9 148.8,373.0 150.2,375.6 151.5,374.9 152.9,377.5 154.2,376.7 155.6,378.5 156.9,377.8 158.3,380.3" fill="none" stroke="#22396c" stroke-width="1.9" stroke-linejoin="round" stroke-linecap="round"/>
<polyline points="217.9,379.3 219.6,381.4 221.4,381.8 223.1,384.0 224.7,383.7 226.3,384.7 228.0,384.2 229.6,385.2 231.2,384.7 232.7,385.4 234.3,384.8 235.8,385.5 237.3,384.5 238.8,385.6 240.4,384.7 241.9,385.4 243.5,384.2 245.1,384.3 246.8,383.1 248.4,383.3 250.0,381.7 251.8,381.5 253.5,376.7 255.3,376.5 257.1,371.9 258.9,372.2 260.7,367.9 262.5,367.8 264.2,364.1 266.0,364.2 267.8,361.0 269.6,360.8 271.4,358.0 273.2,358.7 274.9,356.7 276.7,357.4 278.5,354.3 280.2,356.3 282.0,353.1 284.7,352.0 287.4,353.9 289.2,359.3 290.9,358.3 292.7,364.8 294.3,360.7 295.9,366.2 297.5,364.1 299.0,369.6 300.5,365.9 302.0,370.4 303.5,367.5 305.0,371.9 306.4,368.2 307.9,374.7 309.3,369.6 310.7,375.3 312.1,370.0 313.6,376.5 315.0,373.3 316.4,377.6 317.9,372.3 319.3,377.8 320.7,373.5 322.1,380.8 323.6,374.2 325.0,380.4 326.4,376.1 327.9,382.3 329.3,376.3 330.7,383.0 332.1,378.5 333.6,383.3 335.0,377.9" fill="none" stroke="#6dab48" stroke-width="1.9" stroke-linejoin="round" stroke-linecap="round"/>
<polyline points="217.9,379.2 219.6,381.2 221.4,381.9 223.1,383.9 224.7,383.7 226.3,384.7 228.0,384.3 229.6,385.1 231.2,384.9 232.9,385.2 234.6,383.9 236.2,384.3 237.9,383.5 239.6,383.5 241.2,382.3 242.9,382.5 244.6,381.2 246.4,381.5 248.2,380.6 250.0,380.7 251.8,379.2 253.5,378.5 255.3,376.7 257.1,376.0 258.9,373.9 260.7,374.0 262.5,370.8 264.2,371.9 266.0,367.6 267.8,369.4 269.6,366.2 271.4,367.2 273.5,362.9 275.6,364.0 277.4,360.8 279.2,362.0 281.0,357.6 282.6,361.9 284.2,361.4 286.3,364.7 288.0,361.2 289.6,364.0 291.3,358.1 292.9,364.6 294.6,357.3 296.2,364.1 297.9,361.2 299.5,368.7 301.1,365.1 302.8,370.6 304.6,367.2 306.3,373.5 308.1,371.5 310.0,378.0 311.7,373.2 313.3,379.1 315.0,375.7 316.7,378.5 318.3,375.0 320.0,379.4 321.5,375.4 323.0,380.0 324.5,376.2 326.0,380.7 327.5,376.3 329.0,380.6 330.5,377.3 332.0,382.3 333.5,378.1 335.0,383.6" fill="none" stroke="#a8142e" stroke-width="1.9" stroke-linejoin="round" stroke-linecap="round"/>
<polyline points="217.9,379.5 219.6,381.2 221.4,382.0 223.1,383.9 224.7,383.9 226.3,384.6 228.0,384.4 229.6,385.0 231.2,385.0 232.7,385.5 234.3,385.0 235.8,385.7 237.3,385.3 238.8,386.0 240.4,385.3 241.9,386.0 243.5,385.2 245.1,385.2 246.8,384.0 248.4,384.3 250.0,383.1 251.5,383.4 253.1,382.4 254.6,382.4 256.1,381.5 257.6,381.5 259.2,380.5 260.7,380.4 262.5,379.2 264.2,378.9 266.0,377.9 267.8,377.6 269.6,376.3 271.4,376.1 273.2,374.7 274.9,374.2 276.7,372.5 278.5,371.7 280.2,369.7 282.0,368.7 283.8,367.1 285.6,367.0 287.4,363.8 289.2,364.3 290.9,360.7 292.7,363.2 294.3,360.2 295.9,363.1 297.5,361.3 299.1,362.9 300.5,360.0 301.9,363.5 303.4,360.5 304.8,363.0 306.2,359.3 307.6,361.6 309.6,363.4 311.6,368.6 313.2,367.7 314.9,370.9 316.5,369.7 318.1,372.2 319.7,370.5 321.4,374.0 323.0,371.9 324.6,374.8 326.2,373.0 327.9,374.7 329.5,372.8 331.1,374.0 333.1,374.8 335.0,379.1" fill="none" stroke="#22396c" stroke-width="1.9" stroke-linejoin="round" stroke-linecap="round"/>
<path d="M41.60 23.60 V105.50 H162.90" fill="none" stroke="#111" stroke-width="1.85" stroke-linecap="butt"/>
<path d="M217.60 23.80 V105.30 H339.60" fill="none" stroke="#111" stroke-width="1.85" stroke-linecap="butt"/>
<path d="M387.70 23.30 V105.10 H509.00" fill="none" stroke="#111" stroke-width="1.85" stroke-linecap="butt"/>
<path d="M41.50 172.10 V246.80 H152.30" fill="none" stroke="#111" stroke-width="1.85" stroke-linecap="butt"/>
<path d="M217.70 165.00 V246.80 H339.50" fill="none" stroke="#111" stroke-width="1.85" stroke-linecap="butt"/>
<path d="M387.80 165.40 V247.30 H510.00" fill="none" stroke="#111" stroke-width="1.85" stroke-linecap="butt"/>
<path d="M41.60 304.20 V386.10 H163.20" fill="none" stroke="#111" stroke-width="1.85" stroke-linecap="butt"/>
<path d="M217.90 304.20 V386.40 H339.30" fill="none" stroke="#111" stroke-width="1.85" stroke-linecap="butt"/>
<polyline points="41.5,246.6 149.0,246.6" fill="none" stroke="#22396c" stroke-width="1.9" stroke-linejoin="round" stroke-linecap="round"/>
<circle cx="46.0" cy="246.3" r="1.7" fill="#22396c"/>
<circle cx="50.5" cy="246.3" r="1.7" fill="#22396c"/>
<circle cx="59.4" cy="246.3" r="1.7" fill="#22396c"/>
<circle cx="77.3" cy="246.3" r="1.7" fill="#22396c"/>
<circle cx="95.2" cy="246.3" r="1.7" fill="#22396c"/>
<circle cx="113.2" cy="244.4" r="1.7" fill="#22396c"/>
<circle cx="131.1" cy="246.3" r="1.7" fill="#22396c"/>
<circle cx="149.0" cy="245.4" r="1.7" fill="#22396c"/>
<rect x="0" y="0" width="520" height="1.2" fill="#000"/><rect x="0" y="0" width="1.3" height="421" fill="#000"/><rect x="518.6" y="0" width="1.4" height="421" fill="#000"/><rect x="0" y="419" width="520" height="2" fill="#000"/>
</svg></body></html>
